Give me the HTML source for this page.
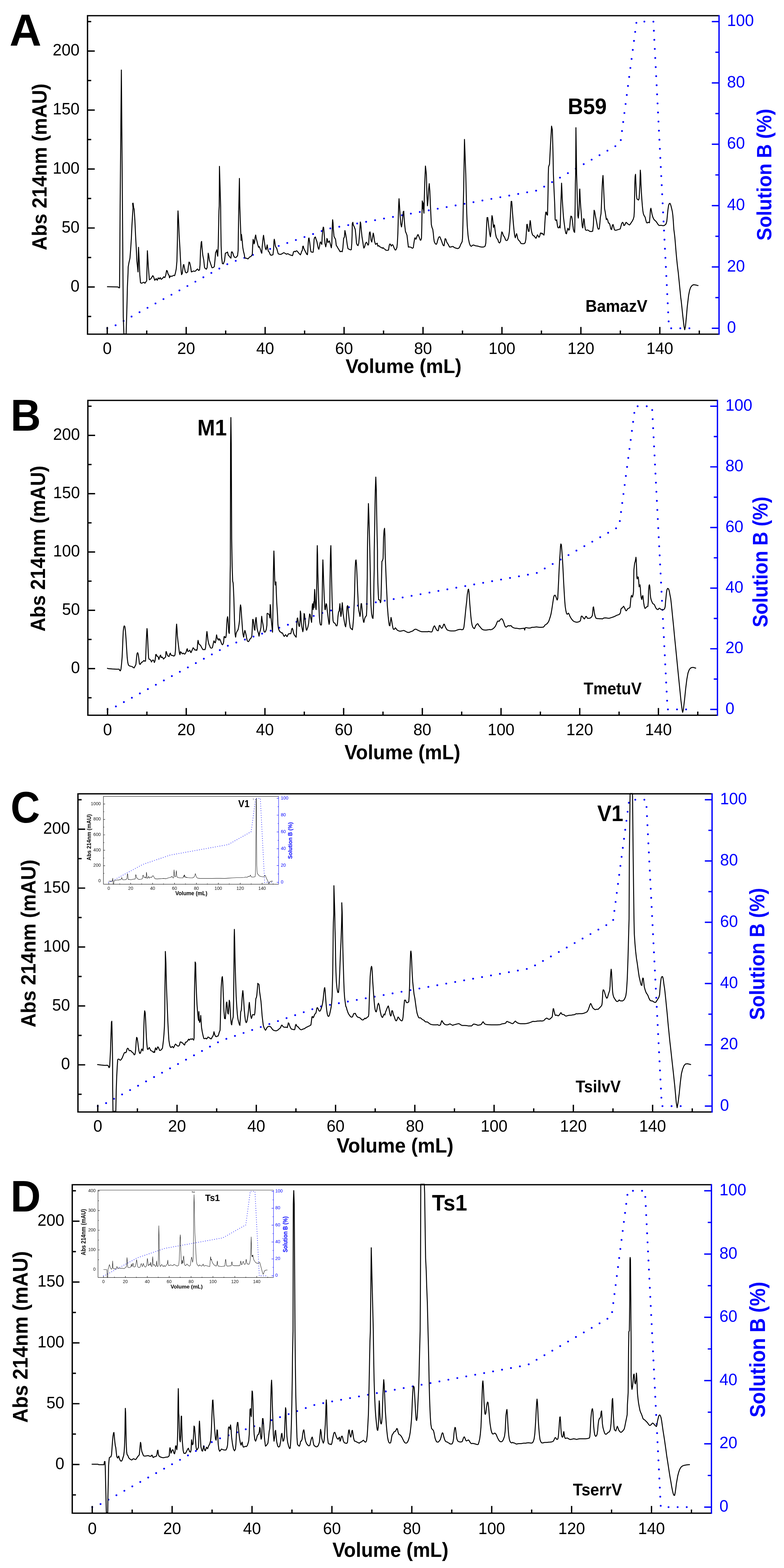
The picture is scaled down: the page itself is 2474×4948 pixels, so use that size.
<!DOCTYPE html><html><head><meta charset="utf-8"><style>html,body{margin:0;padding:0;background:#fff;overflow:hidden}svg{display:block}text{font-family:"Liberation Sans",Arial,sans-serif}.b{font-weight:bold}</style></head><body>
<svg xmlns="http://www.w3.org/2000/svg" width="2474" height="4948" viewBox="0 0 2474 4948">
<rect width="2474" height="4948" fill="#fff"/>
<g><polyline points="338.47,1035.89 347.44,1035.89 724.58,829.75 1035.95,721.85 1696.07,600.87 1957.62,452.32 2008.69,68.11 2061.87,68.11 2111.07,1035.89 2194.27,1035.89" fill="none" stroke="#00f" stroke-width="5.8" stroke-linecap="round" stroke-linejoin="round" stroke-dasharray="0 28.7"/><polyline points="337.8,904.7 371.9,905.6 376.0,908.4 377.2,907.8 378.1,799.1 379.1,650.0 383.0,221.0 386.0,600.0 389.0,1000.0 391.0,1054.0 398.0,1054.0 399.5,1004.0 401.0,950.0 402.0,905.0 404.0,862.0 404.5,842.5 407.0,828.6 410.1,814.6 412.3,786.6 414.5,752.5 416.3,712.1 418.5,674.8 419.8,656.2 418.5,642.0 420.0,641.0 421.9,656.2 423.2,659.3 425.7,696.6 427.8,743.2 430.0,783.5 431.9,823.9 435.6,858.1 437.1,780.4 439.3,823.9 441.2,867.4 443.4,892.2 446.5,893.8 454.2,890.7 457.3,893.8 462.9,886.0 465.1,791.3 468.2,842.5 471.3,882.9 476.0,879.8 482.2,869.9 484.7,873.6 488.4,884.5 493.0,879.2 496.1,884.5 499.3,876.7 502.4,880.4 505.5,876.1 508.6,881.4 513.2,878.3 516.3,873.6 520.1,876.1 523.2,867.4 525.7,853.4 527.8,855.0 530.3,864.3 533.4,868.9 535.0,876.7 537.5,871.1 541.2,872.0 544.3,871.1 547.4,868.9 551.1,869.9 553.6,861.2 556.1,848.8 558.3,823.9 559.8,758.7 560.7,696.6 561.7,665.5 563.5,696.6 565.4,743.2 567.6,780.4 569.8,823.9 571.6,855.0 572.9,866.8 575.3,862.7 578.4,836.3 580.0,834.8 582.2,845.7 584.7,858.1 587.8,861.2 592.4,858.1 594.6,839.4 596.5,827.0 598.6,828.6 601.7,842.5 603.9,858.1 608.0,856.5 611.1,855.0 614.2,856.5 617.3,855.0 620.4,851.2 623.5,848.8 626.6,853.4 629.7,851.9 631.2,836.3 632.8,789.8 635.0,764.9 636.2,761.8 637.5,780.4 639.9,805.3 643.0,820.8 645.2,842.5 647.4,847.2 651.4,849.4 653.6,844.1 655.5,823.9 657.0,799.1 658.6,805.3 660.7,820.8 663.9,830.1 667.0,839.4 669.1,845.0 673.2,844.1 676.3,841.0 678.4,820.8 680.3,797.5 682.5,792.9 684.0,788.2 685.6,802.2 687.1,808.4 688.7,774.2 689.6,727.6 690.9,665.5 691.8,650.0 692.5,525.0 696.2,650.0 696.8,712.1 697.8,774.2 699.3,811.5 701.8,831.7 704.9,832.6 708.6,822.4 711.1,799.1 714.8,797.5 718.0,795.3 720.4,805.3 723.5,808.4 726.6,813.0 728.8,814.6 730.4,796.0 731.9,794.4 735.0,799.1 736.6,805.3 739.7,811.5 742.8,813.0 745.9,811.5 749.6,806.8 751.5,789.8 752.1,743.2 753.0,681.1 753.7,650.0 755.5,563.0 756.8,650.0 758.3,696.6 759.9,737.0 760.8,758.7 762.0,740.1 763.9,755.6 766.1,780.4 768.3,792.9 770.7,802.2 772.3,811.5 773.9,814.6 778.5,815.2 782.5,817.1 784.7,814.6 787.8,810.9 790.9,809.9 794.0,806.8 796.2,802.2 797.1,780.4 798.7,755.6 800.2,758.7 801.8,769.6 803.4,764.9 804.9,749.4 806.8,741.6 808.6,752.5 811.1,761.8 813.6,772.7 815.8,780.4 817.3,777.3 820.4,783.5 823.5,792.9 826.0,799.1 827.3,780.4 829.1,761.8 830.4,749.4 831.6,742.5 833.5,755.6 835.3,771.1 837.5,783.5 839.7,788.2 841.6,780.4 843.1,772.7 844.7,783.5 846.8,792.9 849.9,796.0 852.1,802.2 854.6,805.3 857.7,805.3 861.4,803.7 863.3,786.6 864.5,761.8 865.5,755.0 867.0,761.8 868.6,774.2 870.7,780.4 873.2,783.5 875.7,792.9 877.9,800.6 881.0,802.2 885.7,802.8 890.3,800.6 895.0,797.5 898.1,798.4 901.2,800.6 904.3,802.2 907.4,800.6 910.5,801.6 913.6,803.7 918.3,805.3 922.9,806.8 924.5,802.2 926.0,795.3 929.1,792.9 932.2,794.4 935.3,791.3 938.4,792.9 941.6,797.5 944.7,800.6 947.8,804.3 950.2,799.1 951.8,793.5 954.0,789.8 955.5,777.3 957.1,776.7 958.6,783.5 961.7,789.8 964.8,796.0 968.0,802.2 970.1,803.7 971.4,789.8 972.6,768.0 973.9,752.5 975.1,750.9 977.3,764.9 979.4,783.5 981.3,794.4 985.0,796.0 988.1,796.0 989.7,780.4 991.2,755.6 992.8,749.4 995.3,747.8 997.5,755.6 999.9,761.8 1002.1,772.7 1004.3,783.5 1006.1,786.6 1008.3,777.3 1009.9,766.5 1011.4,763.4 1013.6,768.0 1015.5,771.1 1016.7,746.3 1018.6,724.5 1020.1,716.8 1021.4,718.3 1022.9,737.0 1025.4,768.0 1027.9,778.9 1030.1,768.0 1031.6,752.5 1033.2,755.6 1034.7,764.9 1037.2,763.4 1039.4,760.2 1040.9,764.9 1043.4,774.2 1045.6,782.0 1047.1,768.0 1048.7,712.1 1049.6,693.5 1050.9,702.8 1051.8,721.4 1054.0,746.3 1056.5,750.9 1058.9,755.6 1061.1,774.2 1063.3,777.3 1065.8,782.0 1068.9,786.6 1071.4,791.3 1073.5,794.4 1076.6,792.9 1079.8,794.4 1081.9,783.5 1084.4,752.5 1086.9,747.8 1088.4,727.6 1090.9,739.4 1093.0,751.9 1095.5,770.5 1098.0,784.5 1101.7,786.6 1106.4,788.5 1108.6,787.6 1110.1,767.4 1111.1,742.5 1111.7,705.3 1113.5,701.6 1114.8,709.9 1117.3,714.6 1121.0,723.9 1122.9,742.5 1125.0,767.4 1127.2,773.0 1129.7,775.2 1132.2,767.4 1134.3,742.5 1135.9,717.7 1137.1,700.6 1138.4,705.3 1139.9,723.9 1142.1,745.7 1144.6,761.2 1146.8,776.7 1148.3,782.9 1150.8,778.3 1153.0,768.9 1156.1,764.3 1158.3,767.4 1161.4,773.6 1163.2,770.5 1164.8,748.8 1165.7,734.8 1167.6,731.7 1169.4,742.5 1170.7,758.1 1173.2,763.7 1175.7,748.8 1177.8,735.7 1179.4,742.5 1181.9,761.2 1185.0,771.1 1187.1,769.9 1190.2,767.4 1192.4,776.7 1195.5,775.2 1198.0,778.3 1201.7,780.4 1204.2,781.4 1206.7,783.5 1208.9,781.4 1211.1,784.5 1214.2,786.0 1218.2,789.8 1222.9,790.1 1226.0,789.1 1228.4,773.6 1230.3,769.9 1232.2,771.1 1234.7,776.7 1236.8,773.0 1239.0,772.0 1241.5,776.7 1244.0,783.5 1247.1,789.1 1249.3,788.5 1252.4,781.4 1253.9,767.4 1255.5,736.3 1257.0,680.4 1258.0,649.4 1259.2,627.0 1260.7,649.4 1262.6,680.4 1264.8,706.8 1267.0,716.1 1268.8,705.3 1270.7,686.6 1272.5,668.0 1274.1,666.5 1275.0,683.5 1277.2,711.5 1279.4,730.1 1281.9,736.3 1284.3,742.5 1286.5,761.2 1288.7,779.8 1291.2,779.2 1294.3,779.8 1297.4,780.4 1301.1,783.5 1304.2,781.4 1306.1,767.4 1308.3,753.4 1309.8,750.3 1312.3,755.0 1314.5,750.3 1316.6,744.1 1319.1,740.1 1321.6,745.7 1323.8,751.2 1326.0,757.5 1327.8,758.1 1330.0,751.9 1330.9,720.8 1331.6,680.4 1332.5,633.9 1333.4,637.0 1334.0,658.7 1335.3,640.1 1336.5,661.8 1337.8,672.7 1339.0,624.5 1340.2,581.1 1341.5,550.0 1342.5,524.0 1345.5,550.0 1347.1,612.1 1348.9,649.4 1350.8,630.7 1352.7,596.6 1354.5,579.5 1356.4,602.8 1358.0,643.2 1359.5,674.2 1361.1,708.4 1363.2,717.7 1365.7,723.9 1367.3,736.3 1368.8,751.9 1370.4,762.7 1373.5,768.9 1376.6,771.1 1378.8,767.4 1381.2,758.1 1383.7,750.3 1385.9,747.2 1388.1,747.2 1390.6,753.4 1393.7,761.2 1396.8,770.5 1399.3,775.2 1401.4,775.2 1403.0,764.3 1404.5,753.4 1406.1,753.4 1407.6,756.5 1409.8,764.3 1413.9,770.5 1417.0,776.7 1419.1,779.8 1423.2,779.2 1426.3,778.3 1429.4,777.6 1432.5,780.4 1436.5,782.3 1440.2,783.5 1444.9,784.5 1448.0,782.9 1451.1,778.3 1454.2,770.5 1458.3,762.7 1459.5,751.9 1460.7,711.5 1462.0,643.2 1463.2,596.6 1463.9,550.0 1465.7,440.0 1469.8,550.0 1471.3,612.1 1472.9,674.2 1474.4,711.5 1476.9,742.5 1478.6,755.0 1481.1,767.4 1484.2,775.2 1487.3,777.3 1491.1,774.2 1494.8,773.0 1498.8,775.2 1503.5,776.1 1508.1,776.7 1512.8,778.3 1517.5,779.2 1522.1,779.8 1526.8,779.2 1530.8,776.7 1533.0,767.4 1534.5,736.3 1535.8,705.3 1537.0,686.6 1539.2,686.6 1540.7,699.1 1542.3,714.6 1543.9,727.0 1545.7,739.4 1547.6,747.2 1549.4,730.1 1551.0,699.1 1552.5,680.4 1554.1,686.6 1555.7,702.2 1557.2,717.7 1558.8,709.9 1560.3,709.9 1561.9,723.9 1564.0,739.4 1566.2,748.8 1568.7,753.4 1571.2,756.5 1573.4,764.3 1576.5,766.8 1579.6,761.2 1581.7,742.5 1583.6,731.7 1585.8,734.8 1588.0,742.5 1590.4,745.7 1592.9,750.3 1595.1,756.5 1597.3,759.0 1600.4,758.7 1602.9,754.3 1605.3,745.7 1607.5,730.1 1609.1,705.3 1610.6,680.4 1612.2,649.4 1613.1,635.4 1614.7,635.4 1615.9,649.4 1617.5,674.2 1619.0,692.9 1620.6,711.5 1622.1,727.0 1624.0,742.5 1626.1,750.3 1628.3,742.5 1630.2,737.3 1631.7,742.5 1633.9,753.4 1637.0,758.7 1640.1,761.2 1643.2,767.4 1646.3,768.9 1650.1,768.9 1654.1,768.9 1657.2,765.8 1659.4,755.0 1661.2,730.1 1662.5,708.4 1663.7,707.8 1665.6,720.8 1667.5,730.1 1669.6,730.1 1671.2,711.5 1673.0,696.0 1674.3,702.2 1675.8,720.8 1678.0,733.2 1680.5,741.0 1683.6,744.1 1686.1,745.0 1688.3,748.8 1691.4,751.9 1693.5,747.2 1696.0,741.0 1698.5,745.0 1700.7,748.8 1702.9,745.7 1705.3,736.3 1706.9,734.8 1709.4,737.9 1711.6,736.3 1714.0,740.1 1716.5,741.9 1717.8,733.2 1719.3,705.3 1720.9,680.4 1722.4,669.6 1724.0,669.6 1725.5,677.3 1727.7,678.9 1728.6,643.2 1729.6,596.6 1730.2,550.0 1731.0,527.0 1734.0,518.0 1737.0,460.0 1740.5,398.0 1743.0,410.0 1745.0,480.0 1746.3,550.0 1748.2,596.6 1750.4,643.2 1751.9,692.9 1754.4,696.0 1756.6,693.5 1758.1,705.3 1759.7,716.1 1761.9,719.3 1764.3,717.7 1765.9,713.0 1767.5,719.3 1769.0,674.2 1769.9,643.2 1771.2,605.9 1772.1,578.0 1773.0,596.6 1774.3,627.6 1775.2,643.2 1776.8,668.0 1778.3,686.6 1780.5,705.3 1783.0,723.9 1785.5,736.3 1787.6,737.9 1789.8,727.0 1792.3,720.2 1794.8,726.4 1797.0,723.9 1798.5,708.4 1800.1,689.8 1801.6,682.0 1804.1,683.5 1806.3,696.0 1807.8,711.5 1809.4,723.9 1811.6,731.7 1813.4,733.2 1814.0,705.3 1815.0,643.2 1815.6,581.1 1816.5,550.0 1817.4,403.0 1819.6,550.0 1820.9,596.6 1822.1,643.2 1823.4,680.4 1824.9,688.2 1826.5,674.2 1828.0,643.2 1828.9,601.2 1829.6,596.6 1831.1,630.7 1832.7,655.6 1834.2,674.2 1835.8,696.0 1837.3,714.6 1838.9,719.3 1840.4,705.3 1842.0,689.8 1843.5,692.9 1845.1,711.5 1847.6,725.5 1850.7,727.0 1853.8,725.5 1856.9,727.0 1860.9,730.1 1865.5,730.7 1870.2,729.5 1872.4,711.5 1873.6,686.6 1874.8,663.4 1876.7,668.0 1878.6,680.4 1881.1,692.9 1883.5,705.3 1885.7,717.7 1887.9,723.3 1891.0,722.4 1892.9,705.3 1894.4,686.6 1896.6,674.2 1898.1,643.2 1899.1,621.4 1900.3,587.3 1901.6,565.5 1902.8,553.7 1904.0,574.8 1905.3,605.9 1906.5,630.7 1907.8,658.7 1909.6,668.0 1911.5,680.4 1913.4,692.9 1915.2,689.8 1917.7,694.4 1919.9,703.7 1923.0,704.7 1925.2,711.5 1927.6,722.4 1930.1,724.5 1932.3,711.5 1934.5,708.4 1936.3,714.6 1938.5,723.9 1940.7,726.4 1944.7,726.4 1949.4,724.8 1953.1,723.9 1957.1,722.4 1959.3,714.6 1961.8,705.3 1964.3,701.6 1966.5,703.7 1968.6,711.5 1971.1,710.9 1973.6,705.3 1975.8,701.6 1978.0,703.7 1980.4,705.9 1983.5,708.4 1986.6,709.9 1989.1,706.8 1992.2,702.2 1995.3,697.5 1998.4,691.3 2000.6,683.5 2001.6,668.0 2002.2,640.1 2003.1,581.1 2004.3,556.2 2005.5,550.0 2006.8,581.1 2008.4,615.2 2009.9,627.6 2012.1,629.2 2014.6,631.4 2016.5,627.6 2017.7,612.1 2019.3,581.1 2020.2,550.0 2020.5,537.0 2021.7,550.0 2022.7,581.1 2023.9,605.9 2025.5,630.7 2027.0,649.4 2028.6,664.9 2030.1,674.2 2032.6,680.4 2035.7,685.1 2037.9,694.4 2040.1,702.2 2042.5,703.7 2045.0,701.2 2047.2,702.2 2049.4,702.8 2051.2,680.4 2052.5,661.8 2054.0,657.1 2055.6,664.9 2057.5,675.8 2059.6,683.5 2061.8,689.1 2064.3,693.5 2067.4,696.0 2070.5,699.1 2073.6,703.7 2076.7,708.4 2079.8,711.5 2082.9,711.5 2086.0,710.9 2090.7,712.1 2095.3,712.1 2098.4,709.9 2101.6,706.8 2104.0,699.1 2105.3,686.6 2106.5,674.2 2107.8,661.8 2109.6,649.4 2111.5,643.2 2114.0,641.6 2115.8,644.7 2117.7,650.9 2119.6,658.7 2121.7,668.0 2123.3,680.4 2124.8,699.1 2126.4,723.9 2128.0,736.3 2129.5,748.8 2131.1,767.4 2132.6,786.0 2134.2,804.7 2135.7,820.2 2137.3,835.7 2138.8,848.1 2140.4,860.6 2141.9,876.1 2143.5,891.6 2145.0,907.1 2146.6,922.7 2148.1,938.2 2149.7,950.0 2155.0,1000.0 2158.5,1030.0 2160.7,1040.5 2163.0,1030.0 2166.0,1000.0 2168.5,970.0 2173.0,932.0 2176.1,916.5 2179.2,907.1 2183.9,900.9 2188.5,898.4 2191.6,898.8 2196.3,899.4 2200.9,900.9 2204.0,900.9" fill="none" stroke="#000" stroke-width="3" stroke-linejoin="round"/><path d="M276.2,47.4V1056.6M274.1,49.5H2269M274.1,1054.5H2269" stroke="#000" stroke-width="4.2" fill="none"/><path d="M2269,47.4V1056.6" stroke="#00f" stroke-width="4.2" fill="none"/><path d="M276.2,998.67h11.6M276.2,905.61h22.8M276.2,812.56h11.6M276.2,719.5h22.8M276.2,626.44h11.6M276.2,533.39h22.8M276.2,440.33h11.6M276.2,347.28h22.8M276.2,254.22h11.6M276.2,161.17h22.8M276.2,68.11h11.6M338.47,1054.5v-22.8M463.02,1054.5v-11.6M587.58,1054.5v-22.8M712.12,1054.5v-11.6M836.67,1054.5v-22.8M961.22,1054.5v-11.6M1085.78,1054.5v-22.8M1210.33,1054.5v-11.6M1334.88,1054.5v-22.8M1459.42,1054.5v-11.6M1583.98,1054.5v-22.8M1708.53,1054.5v-11.6M1833.08,1054.5v-22.8M1957.62,1054.5v-11.6M2082.17,1054.5v-22.8M2206.72,1054.5v-11.6" stroke="#000" stroke-width="4.2" fill="none"/><path d="M2269,1035.89h-22.8M2269,939.11h-11.6M2269,842.33h-22.8M2269,745.56h-11.6M2269,648.78h-22.8M2269,552h-11.6M2269,455.22h-22.8M2269,358.44h-11.6M2269,261.67h-22.8M2269,164.89h-11.6M2269,68.11h-22.8" stroke="#00f" stroke-width="4.2" fill="none"/><text transform="translate(251.1,919.81) scale(1,1.02)" font-size="50.8" text-anchor="end">0</text><text transform="translate(251.1,733.7) scale(1,1.02)" font-size="50.8" text-anchor="end">50</text><text transform="translate(251.1,547.59) scale(1,1.02)" font-size="50.8" text-anchor="end">100</text><text transform="translate(251.1,361.48) scale(1,1.02)" font-size="50.8" text-anchor="end">150</text><text transform="translate(251.1,175.37) scale(1,1.02)" font-size="50.8" text-anchor="end">200</text><text transform="translate(338.47,1116.5) scale(1,1.02)" font-size="50.8" text-anchor="middle">0</text><text transform="translate(587.58,1116.5) scale(1,1.02)" font-size="50.8" text-anchor="middle">20</text><text transform="translate(836.67,1116.5) scale(1,1.02)" font-size="50.8" text-anchor="middle">40</text><text transform="translate(1085.78,1116.5) scale(1,1.02)" font-size="50.8" text-anchor="middle">60</text><text transform="translate(1334.88,1116.5) scale(1,1.02)" font-size="50.8" text-anchor="middle">80</text><text transform="translate(1583.98,1116.5) scale(1,1.02)" font-size="50.8" text-anchor="middle">100</text><text transform="translate(1833.08,1116.5) scale(1,1.02)" font-size="50.8" text-anchor="middle">120</text><text transform="translate(2082.17,1116.5) scale(1,1.02)" font-size="50.8" text-anchor="middle">140</text><text transform="translate(2294.2,1050.09) scale(1,1.02)" font-size="50.8" fill="#00f">0</text><text transform="translate(2294.2,856.53) scale(1,1.02)" font-size="50.8" fill="#00f">20</text><text transform="translate(2294.2,662.98) scale(1,1.02)" font-size="50.8" fill="#00f">40</text><text transform="translate(2294.2,469.42) scale(1,1.02)" font-size="50.8" fill="#00f">60</text><text transform="translate(2294.2,275.87) scale(1,1.02)" font-size="50.8" fill="#00f">80</text><text transform="translate(2294.2,82.31) scale(1,1.02)" font-size="50.8" fill="#00f">100</text></g>
<g><polyline points="339.38,2238.6 348.32,2238.6 724.31,2034.82 1034.73,1928.15 1692.82,1808.56 1953.58,1661.71 2004.49,1281.9 2057.51,1281.9 2106.55,2238.6 2189.5,2238.6" fill="none" stroke="#00f" stroke-width="5.8" stroke-linecap="round" stroke-linejoin="round" stroke-dasharray="0 28.7"/><polyline points="337.8,2108.6 342.4,2110.1 354.8,2111.1 367.3,2111.7 376.0,2111.7 378.1,2116.0 379.7,2117.0 381.6,2112.3 383.4,2096.8 385.3,2075.0 386.5,2050.2 387.8,2016.0 389.0,1991.2 390.6,1978.8 392.1,1975.0 394.0,1977.2 395.8,1991.2 397.7,2016.0 399.6,2047.1 401.4,2075.0 403.3,2090.6 405.2,2098.3 408.3,2101.4 412.3,2102.4 417.0,2103.6 420.1,2106.1 423.2,2107.6 425.7,2103.0 428.8,2096.8 430.0,2084.3 431.2,2071.9 432.5,2062.6 434.3,2059.5 436.2,2064.2 438.1,2078.1 439.9,2093.7 441.8,2096.8 444.3,2093.7 446.8,2089.9 449.6,2089.0 451.7,2086.8 454.2,2084.3 456.7,2086.8 459.2,2085.9 460.4,2059.5 461.7,2022.2 462.9,1997.4 463.9,1983.4 464.8,1991.2 466.0,2016.0 467.3,2047.1 468.8,2075.0 470.7,2080.6 473.5,2081.2 476.0,2083.7 477.8,2089.0 479.7,2085.9 482.2,2082.8 484.7,2083.7 487.1,2090.6 489.0,2085.9 490.2,2078.1 491.5,2065.7 493.0,2065.1 494.6,2070.4 497.1,2070.4 499.3,2073.5 501.4,2081.2 503.3,2074.4 505.5,2068.8 507.0,2067.3 508.6,2075.0 510.7,2073.5 513.2,2074.4 515.7,2079.7 517.9,2078.1 520.1,2075.0 522.5,2073.5 523.8,2056.4 525.0,2056.4 526.6,2062.6 528.8,2068.8 531.2,2070.4 533.4,2071.9 535.6,2064.2 537.5,2061.1 539.6,2067.3 542.7,2068.2 545.8,2068.8 548.9,2070.4 552.0,2067.3 553.6,2053.3 554.8,2022.2 556.1,1985.0 557.3,1969.4 558.6,1985.0 559.8,2006.7 561.4,2022.2 562.9,2034.7 564.5,2047.1 566.0,2059.5 567.9,2065.7 569.8,2056.4 571.6,2058.9 573.8,2061.1 576.0,2063.2 578.4,2061.1 580.9,2063.2 583.1,2064.2 585.3,2061.1 587.8,2056.4 589.3,2050.2 590.9,2047.1 592.4,2054.8 594.6,2055.8 597.1,2053.3 598.9,2051.7 600.8,2056.4 602.7,2059.5 604.8,2054.8 607.0,2049.6 609.5,2044.0 611.7,2046.5 614.2,2050.2 616.3,2051.7 618.8,2050.2 620.7,2052.7 622.5,2047.1 623.8,2028.4 625.0,2020.7 626.6,2028.4 628.1,2033.1 630.6,2034.7 632.8,2036.2 635.0,2040.9 637.5,2045.5 640.6,2050.2 643.7,2049.6 646.8,2050.2 648.6,2044.0 650.5,2022.2 651.7,2003.6 653.0,1992.7 654.5,2003.6 656.1,2019.1 658.0,2028.4 659.8,2034.7 661.7,2037.8 663.9,2044.0 667.0,2045.5 670.1,2044.0 671.6,2037.8 673.5,2028.4 675.3,2022.2 677.2,2026.9 679.4,2028.4 680.9,2022.2 682.5,2009.8 683.4,2003.6 685.0,2011.4 687.1,2017.6 689.6,2016.0 690.9,2020.7 692.7,2016.0 694.9,2019.1 697.1,2025.3 699.6,2032.2 702.0,2034.7 704.2,2031.6 705.8,2025.3 707.0,2009.8 708.3,2008.3 710.4,2012.3 712.6,2011.4 713.9,2003.6 715.1,1978.8 716.6,1953.9 718.2,1946.1 719.4,1953.9 720.7,1972.5 721.9,1994.3 723.5,1998.9 724.4,1966.3 725.3,1904.2 726.3,1811.1 726.9,1780.0 727.6,1400.0 728.6,1317.4 729.8,1400.0 731.1,1700.0 732.6,1787.0 734.2,1833.5 735.7,1839.8 736.6,1855.3 737.9,1886.3 738.8,1917.4 739.8,1954.7 741.0,1979.5 741.9,2001.2 743.5,2010.6 745.0,1999.7 746.6,1995.0 749.1,1990.4 751.2,1987.3 752.8,1979.5 754.3,1970.2 755.9,1957.8 756.8,1936.0 757.8,1917.4 759.0,1908.7 760.6,1917.4 762.1,1942.2 763.7,1964.0 765.2,1985.7 766.8,2001.2 768.9,2010.6 770.8,1998.1 772.7,1989.4 774.5,1995.0 776.7,2004.3 778.3,2013.7 780.1,2021.4 782.3,2024.5 784.5,2024.5 787.0,2020.5 788.5,2016.8 791.6,2014.3 794.7,2007.5 796.3,1979.5 797.5,1954.7 798.8,1954.7 800.6,1967.1 802.5,1985.7 804.3,1988.8 806.2,1957.8 808.1,1948.4 809.6,1964.0 811.2,1982.6 813.4,1991.9 815.5,1998.1 817.4,2007.5 819.6,1995.0 821.7,1988.8 823.6,1979.5 824.8,1957.8 825.8,1944.7 827.3,1957.8 829.8,1970.2 832.0,1985.7 833.5,1993.5 836.0,1995.0 838.2,1991.9 840.4,1985.7 842.2,1973.3 842.9,1936.0 844.4,1935.4 847.5,1937.6 849.7,1940.7 851.6,1950.0 852.8,1908.1 854.0,1917.4 855.3,1948.4 856.8,1964.0 858.4,1979.5 859.9,1995.0 860.9,1948.4 861.8,1892.5 862.7,1808.7 863.7,1762.1 864.3,1738.8 865.2,1762.1 866.1,1799.4 867.1,1833.5 868.3,1846.0 869.9,1836.6 870.8,1836.6 872.0,1870.8 873.3,1901.9 874.5,1920.5 875.8,1942.2 877.0,1970.2 878.6,1982.6 880.7,1988.8 883.2,1993.5 885.7,1994.4 887.9,1997.5 890.1,1996.6 892.5,1999.7 895.0,2005.9 897.2,2008.1 898.8,2005.9 901.2,2002.8 903.4,2005.9 905.6,2009.0 907.5,2005.9 909.6,2001.2 911.8,1999.7 914.3,1999.7 917.4,1999.7 918.9,1995.0 920.5,1985.1 922.4,1982.6 924.2,1987.3 926.1,1996.6 928.3,2002.8 930.4,2005.9 932.9,2009.0 934.5,2010.6 935.4,1998.1 936.6,1967.1 937.9,1951.6 939.1,1950.0 940.4,1957.8 942.2,1970.2 943.8,1976.4 945.3,1976.4 946.9,1954.7 947.8,1928.3 949.1,1936.0 950.3,1957.8 952.2,1976.4 954.0,1985.7 955.6,1993.5 957.1,1985.7 958.4,1960.9 959.6,1936.0 960.9,1939.1 962.7,1954.7 964.6,1973.3 966.5,1987.3 967.7,1988.8 969.6,1984.2 971.7,1978.0 973.9,1967.1 975.8,1948.4 977.0,1937.6 978.6,1939.1 980.1,1948.4 982.0,1957.8 983.2,1964.0 984.2,1945.3 985.1,1914.3 986.3,1905.0 987.3,1917.4 988.2,1923.6 989.4,1911.2 990.4,1898.8 991.3,1917.4 991.9,1886.3 992.9,1859.9 993.8,1873.9 995.0,1898.8 996.3,1917.4 997.5,1923.6 998.8,1886.3 999.7,1836.6 1000.6,1752.8 1001.2,1721.7 1002.2,1755.9 1003.1,1808.7 1004.3,1855.3 1005.9,1901.9 1007.5,1942.2 1009.0,1960.9 1010.6,1970.2 1013.0,1972.7 1014.6,1970.2 1015.5,1948.4 1016.8,1886.3 1017.4,1839.8 1018.3,1787.0 1018.9,1766.8 1019.9,1793.2 1021.4,1839.8 1023.0,1880.1 1023.9,1901.9 1025.5,1923.6 1026.7,1923.6 1028.0,1911.2 1029.2,1905.0 1030.7,1908.1 1032.3,1923.6 1033.9,1936.0 1035.4,1948.4 1037.0,1960.9 1038.5,1970.2 1039.8,1964.0 1040.7,1917.4 1041.6,1824.2 1042.5,1762.1 1043.5,1731.1 1044.1,1721.7 1045.0,1762.1 1046.3,1824.2 1047.8,1886.3 1049.4,1932.9 1050.9,1957.8 1052.5,1964.0 1054.7,1965.5 1057.1,1967.1 1058.7,1970.2 1060.9,1974.8 1063.4,1974.8 1064.9,1967.1 1066.5,1945.3 1068.3,1931.4 1070.2,1928.3 1071.4,1917.4 1072.7,1905.0 1074.2,1929.8 1075.8,1945.3 1077.3,1936.0 1078.9,1917.4 1080.1,1901.9 1081.4,1917.4 1082.6,1936.0 1084.5,1948.4 1086.6,1960.9 1088.8,1973.3 1090.7,1978.0 1092.2,1967.1 1093.8,1936.0 1095.3,1914.3 1096.9,1911.2 1098.0,1914.3 1099.3,1929.8 1101.1,1948.4 1103.3,1967.1 1105.5,1981.1 1108.6,1984.2 1112.0,1987.3 1113.5,1976.4 1115.4,1954.7 1116.6,1929.8 1117.9,1898.8 1118.8,1873.9 1119.8,1833.5 1121.0,1790.1 1122.2,1769.9 1123.5,1766.8 1124.7,1777.6 1126.0,1802.5 1127.2,1830.4 1128.4,1861.5 1129.7,1886.3 1130.6,1911.2 1132.2,1926.7 1134.3,1936.0 1135.9,1945.3 1137.1,1939.1 1138.4,1917.4 1139.6,1905.0 1140.9,1905.0 1142.1,1917.4 1143.7,1932.9 1145.2,1948.4 1146.8,1960.9 1148.3,1964.0 1150.2,1954.7 1152.0,1948.4 1154.5,1945.3 1156.4,1942.2 1157.6,1917.4 1158.3,1855.3 1158.9,1824.2 1159.5,1736.0 1160.1,1695.7 1161.4,1642.9 1162.6,1589.1 1163.9,1624.2 1165.4,1673.9 1167.0,1736.0 1168.5,1807.5 1169.4,1870.8 1170.7,1911.2 1172.5,1936.0 1174.7,1948.4 1176.9,1951.6 1178.1,1936.0 1179.4,1886.3 1180.0,1833.5 1180.9,1793.2 1180.9,1742.2 1182.5,1655.3 1183.4,1593.2 1184.3,1546.6 1185.9,1505.6 1187.5,1546.6 1188.7,1624.2 1189.9,1686.3 1191.2,1739.1 1191.2,1787.0 1192.4,1839.8 1193.7,1873.9 1194.9,1892.5 1196.8,1892.5 1198.6,1894.1 1200.5,1901.9 1201.7,1898.8 1202.7,1873.9 1203.6,1839.8 1204.2,1811.8 1205.2,1771.4 1207.3,1768.3 1208.9,1762.1 1210.4,1695.7 1212.0,1673.9 1213.5,1667.1 1214.5,1686.3 1215.4,1748.4 1216.6,1777.6 1218.2,1818.0 1219.8,1855.3 1221.3,1886.3 1222.2,1911.2 1223.5,1926.7 1224.7,1942.2 1226.6,1960.9 1228.4,1973.3 1230.3,1974.8 1232.2,1960.9 1234.0,1948.4 1235.9,1957.8 1237.8,1970.2 1239.9,1981.1 1241.5,1985.7 1244.6,1985.7 1247.7,1981.1 1250.2,1984.2 1253.3,1988.2 1257.0,1990.4 1261.7,1991.9 1266.3,1991.3 1270.1,1990.4 1274.1,1989.4 1278.1,1991.3 1281.9,1993.5 1286.5,1995.7 1291.2,1995.7 1295.8,1993.5 1300.5,1991.9 1303.6,1990.4 1306.7,1987.3 1309.8,1985.7 1313.5,1985.7 1317.6,1988.2 1322.2,1990.4 1326.9,1992.5 1331.6,1993.5 1337.8,1993.5 1344.0,1993.5 1349.6,1993.5 1352.7,1992.5 1356.4,1993.5 1361.1,1994.4 1363.2,1993.5 1365.1,1988.8 1367.3,1981.1 1369.4,1976.4 1371.3,1974.8 1373.5,1979.5 1376.6,1985.7 1379.7,1989.8 1382.8,1990.4 1384.3,1984.2 1385.9,1974.8 1388.1,1973.3 1390.6,1979.5 1393.7,1982.6 1396.1,1981.1 1398.3,1974.8 1400.5,1969.6 1402.4,1970.2 1404.5,1976.4 1407.6,1982.6 1410.7,1987.3 1414.8,1989.4 1418.5,1990.4 1423.2,1991.0 1427.8,1991.0 1432.5,1991.0 1437.1,1990.4 1440.9,1988.8 1444.9,1987.3 1449.6,1986.3 1454.2,1986.3 1457.3,1987.3 1461.4,1986.3 1463.9,1979.5 1465.7,1964.0 1467.6,1945.3 1469.1,1929.8 1470.7,1914.3 1472.9,1895.7 1474.4,1877.0 1476.0,1867.7 1477.5,1859.9 1478.6,1859.3 1479.9,1867.1 1481.1,1885.7 1482.4,1904.3 1484.2,1926.1 1486.1,1947.8 1488.0,1963.4 1489.8,1972.7 1492.0,1978.9 1494.8,1982.6 1497.3,1983.5 1499.8,1977.3 1501.9,1972.7 1504.1,1971.1 1506.6,1968.0 1509.1,1969.6 1511.2,1974.2 1514.3,1977.3 1517.5,1981.4 1520.6,1985.1 1525.2,1987.6 1529.9,1988.2 1534.5,1988.2 1539.2,1987.6 1543.9,1986.6 1548.5,1987.3 1553.2,1985.7 1557.8,1982.6 1562.5,1977.3 1565.6,1971.1 1568.1,1964.9 1570.2,1960.2 1572.4,1959.6 1574.9,1960.9 1577.4,1957.1 1580.5,1953.4 1583.0,1952.5 1585.5,1954.7 1588.0,1959.6 1590.4,1966.5 1592.9,1974.2 1595.1,1978.3 1598.2,1978.9 1601.3,1975.8 1604.4,1974.2 1607.5,1975.2 1610.6,1974.2 1612.8,1974.2 1614.7,1977.3 1617.8,1979.5 1621.5,1981.4 1626.1,1982.6 1630.8,1982.6 1635.5,1983.5 1640.1,1984.2 1644.8,1983.5 1649.4,1982.9 1654.1,1982.6 1655.7,1988.2 1657.2,1981.4 1660.3,1980.4 1665.0,1981.4 1669.6,1982.0 1674.3,1981.4 1678.9,1979.5 1683.6,1979.5 1688.3,1978.9 1692.9,1978.3 1697.6,1978.9 1702.2,1979.5 1708.4,1979.5 1714.7,1978.9 1717.8,1975.8 1720.2,1972.0 1723.4,1970.2 1726.5,1968.0 1728.9,1964.9 1731.7,1960.2 1733.9,1954.0 1736.4,1946.3 1738.9,1937.0 1741.1,1924.5 1743.2,1910.6 1745.1,1898.1 1747.0,1885.7 1748.8,1879.5 1751.3,1878.0 1753.5,1881.1 1755.7,1887.3 1758.1,1893.5 1760.0,1888.8 1761.2,1864.0 1762.8,1832.9 1764.3,1798.8 1765.9,1767.7 1767.5,1746.0 1768.7,1724.2 1769.9,1716.5 1771.5,1719.6 1772.7,1733.5 1774.3,1755.3 1775.8,1780.1 1777.4,1811.2 1778.9,1842.2 1780.5,1870.2 1782.0,1895.0 1783.6,1913.7 1785.5,1926.1 1787.6,1935.4 1789.8,1938.5 1791.7,1937.0 1793.9,1934.8 1796.0,1938.5 1798.5,1944.7 1801.0,1949.4 1804.1,1954.0 1807.2,1957.8 1810.9,1960.9 1815.6,1962.7 1820.2,1963.4 1824.9,1962.7 1829.6,1960.9 1832.0,1957.1 1834.2,1944.7 1836.4,1944.1 1838.9,1947.2 1841.4,1950.3 1843.9,1953.4 1846.0,1950.3 1848.2,1945.3 1850.7,1945.3 1852.5,1949.4 1855.0,1951.6 1857.5,1950.9 1860.9,1950.9 1864.0,1949.4 1867.1,1946.3 1869.3,1941.6 1870.5,1929.2 1871.7,1916.8 1873.0,1915.2 1874.2,1923.0 1875.8,1935.4 1878.0,1944.7 1880.4,1950.3 1883.5,1951.9 1887.3,1951.9 1891.9,1952.5 1896.6,1952.5 1901.2,1953.1 1905.3,1950.3 1909.0,1949.7 1913.7,1950.0 1918.3,1950.9 1923.0,1950.9 1927.6,1949.4 1932.3,1947.8 1937.0,1946.3 1941.6,1944.1 1946.3,1941.6 1950.9,1940.1 1955.6,1937.9 1958.1,1932.3 1959.3,1923.0 1961.2,1919.3 1963.7,1918.3 1966.1,1915.2 1968.0,1913.0 1969.9,1916.8 1971.7,1919.9 1973.6,1924.5 1975.8,1927.6 1978.0,1925.5 1980.4,1921.4 1982.9,1919.9 1985.4,1918.9 1987.9,1916.8 1989.1,1907.5 1990.4,1891.9 1991.6,1882.6 1992.9,1878.9 1994.4,1882.6 1996.0,1884.2 1997.8,1876.4 1999.1,1867.1 1999.7,1836.0 2000.3,1798.8 2001.6,1786.3 2002.8,1777.0 2004.3,1772.4 2005.9,1764.6 2006.8,1758.4 2007.8,1767.7 2009.0,1798.8 2009.9,1823.6 2010.9,1826.7 2012.1,1820.5 2014.0,1821.1 2015.2,1829.8 2016.8,1851.6 2018.3,1848.4 2019.6,1845.3 2020.8,1857.8 2021.7,1873.3 2023.3,1885.7 2025.2,1891.9 2027.0,1881.1 2028.6,1879.5 2029.8,1888.8 2031.1,1901.2 2033.2,1913.7 2035.4,1919.9 2037.9,1918.3 2040.1,1915.2 2042.5,1914.3 2044.4,1913.7 2045.7,1898.1 2046.6,1864.0 2048.1,1848.4 2049.4,1845.3 2050.6,1851.6 2051.9,1873.3 2053.1,1885.7 2055.0,1893.5 2057.5,1899.7 2059.6,1904.3 2062.1,1905.9 2064.3,1907.5 2066.1,1910.6 2068.0,1915.2 2070.5,1919.9 2073.6,1923.0 2076.7,1923.6 2079.2,1919.9 2081.4,1919.3 2083.5,1921.4 2086.0,1923.0 2089.1,1924.5 2092.2,1924.5 2095.3,1923.0 2097.5,1919.9 2099.1,1913.7 2100.3,1898.1 2101.6,1885.7 2103.1,1870.2 2104.7,1860.9 2106.5,1857.1 2108.4,1857.1 2110.2,1859.3 2112.4,1867.1 2114.0,1876.4 2116.5,1888.8 2118.3,1904.3 2120.2,1923.0 2122.0,1941.6 2123.9,1960.2 2125.8,1978.9 2128.9,2011.8 2133.9,2061.5 2138.8,2111.2 2143.8,2160.9 2148.8,2210.6 2152.5,2240.4 2154.2,2247.8 2156.2,2240.4 2159.9,2210.6 2163.7,2173.3 2167.4,2143.5 2171.1,2123.6 2174.8,2113.7 2178.6,2108.7 2183.5,2106.2 2188.5,2106.2 2192.2,2107.5 2196.5,2108.7" fill="none" stroke="#000" stroke-width="3" stroke-linejoin="round"/><path d="M277.3,1261.4V2259.1M275.2,1263.5H2264M275.2,2257H2264" stroke="#000" stroke-width="4.2" fill="none"/><path d="M2264,1261.4V2259.1" stroke="#00f" stroke-width="4.2" fill="none"/><path d="M277.3,2201.81h11.6M277.3,2109.81h22.8M277.3,2017.82h11.6M277.3,1925.83h22.8M277.3,1833.84h11.6M277.3,1741.85h22.8M277.3,1649.86h11.6M277.3,1557.87h22.8M277.3,1465.88h11.6M277.3,1373.89h22.8M277.3,1281.9h11.6M339.38,2257v-22.8M463.55,2257v-11.6M587.72,2257v-22.8M711.89,2257v-11.6M836.06,2257v-22.8M960.23,2257v-11.6M1084.4,2257v-22.8M1208.57,2257v-11.6M1332.73,2257v-22.8M1456.9,2257v-11.6M1581.07,2257v-22.8M1705.24,2257v-11.6M1829.41,2257v-22.8M1953.58,2257v-11.6M2077.75,2257v-22.8M2201.92,2257v-11.6" stroke="#000" stroke-width="4.2" fill="none"/><path d="M2264,2238.6h-22.8M2264,2142.93h-11.6M2264,2047.26h-22.8M2264,1951.59h-11.6M2264,1855.92h-22.8M2264,1760.25h-11.6M2264,1664.58h-22.8M2264,1568.91h-11.6M2264,1473.24h-22.8M2264,1377.57h-11.6M2264,1281.9h-22.8" stroke="#00f" stroke-width="4.2" fill="none"/><text transform="translate(252.2,2124.01) scale(1,1.02)" font-size="50.8" text-anchor="end">0</text><text transform="translate(252.2,1940.03) scale(1,1.02)" font-size="50.8" text-anchor="end">50</text><text transform="translate(252.2,1756.05) scale(1,1.02)" font-size="50.8" text-anchor="end">100</text><text transform="translate(252.2,1572.07) scale(1,1.02)" font-size="50.8" text-anchor="end">150</text><text transform="translate(252.2,1388.09) scale(1,1.02)" font-size="50.8" text-anchor="end">200</text><text transform="translate(339.38,2320.3) scale(1,1.02)" font-size="50.8" text-anchor="middle">0</text><text transform="translate(587.72,2320.3) scale(1,1.02)" font-size="50.8" text-anchor="middle">20</text><text transform="translate(836.06,2320.3) scale(1,1.02)" font-size="50.8" text-anchor="middle">40</text><text transform="translate(1084.4,2320.3) scale(1,1.02)" font-size="50.8" text-anchor="middle">60</text><text transform="translate(1332.73,2320.3) scale(1,1.02)" font-size="50.8" text-anchor="middle">80</text><text transform="translate(1581.07,2320.3) scale(1,1.02)" font-size="50.8" text-anchor="middle">100</text><text transform="translate(1829.41,2320.3) scale(1,1.02)" font-size="50.8" text-anchor="middle">120</text><text transform="translate(2077.75,2320.3) scale(1,1.02)" font-size="50.8" text-anchor="middle">140</text><text transform="translate(2289.2,2252.8) scale(1,1.02)" font-size="50.8" fill="#00f">0</text><text transform="translate(2289.2,2061.46) scale(1,1.02)" font-size="50.8" fill="#00f">20</text><text transform="translate(2289.2,1870.12) scale(1,1.02)" font-size="50.8" fill="#00f">40</text><text transform="translate(2289.2,1678.78) scale(1,1.02)" font-size="50.8" fill="#00f">60</text><text transform="translate(2289.2,1487.44) scale(1,1.02)" font-size="50.8" fill="#00f">80</text><text transform="translate(2289.2,1296.1) scale(1,1.02)" font-size="50.8" fill="#00f">100</text></g>
<g><polyline points="308.53,3490.41 317.54,3490.41 696.23,3284.48 1008.88,3176.68 1671.71,3055.82 1934.34,2907.42 1985.62,2523.59 2039.02,2523.59 2088.42,3490.41 2171.96,3490.41" fill="none" stroke="#00f" stroke-width="5.8" stroke-linecap="round" stroke-linejoin="round" stroke-dasharray="0 28.7"/><polyline points="306.8,3359.3 318.6,3360.8 331.1,3362.0 338.8,3361.4 341.9,3363.6 344.1,3369.2 346.0,3366.1 347.2,3344.3 348.8,3313.3 350.3,3263.6 351.6,3226.3 352.8,3222.6 353.7,3257.4 354.7,3304.0 355.3,3356.8 355.6,3440.0 356.5,3507.0 365.5,3507.0 366.8,3440.0 368.3,3397.1 369.9,3366.1 371.4,3344.3 373.0,3341.9 376.1,3342.8 379.2,3345.9 382.3,3343.7 385.4,3338.8 387.6,3333.5 390.1,3327.3 392.5,3322.0 394.7,3321.1 396.9,3322.0 398.8,3318.9 400.9,3310.2 403.1,3307.7 405.6,3310.2 407.1,3314.8 409.3,3315.8 411.8,3314.8 414.3,3317.3 416.5,3320.1 418.6,3321.1 421.1,3324.2 423.6,3328.8 425.8,3327.3 427.3,3319.5 428.6,3304.0 429.8,3285.3 431.1,3273.5 432.9,3276.0 434.8,3288.4 436.6,3304.0 438.5,3316.4 440.4,3323.2 442.2,3324.2 444.4,3319.5 446.0,3313.3 447.5,3310.2 449.1,3313.3 450.9,3315.8 452.2,3304.0 453.1,3272.9 454.0,3238.8 455.3,3204.6 456.5,3189.7 458.1,3195.3 459.6,3220.1 460.9,3251.2 462.1,3276.0 463.7,3297.8 465.2,3310.2 467.1,3311.7 469.3,3307.7 471.4,3305.5 473.3,3310.2 475.5,3314.8 477.6,3315.8 480.1,3317.0 482.6,3319.5 484.8,3321.1 486.3,3318.0 487.9,3321.1 489.4,3311.7 491.0,3306.5 492.5,3310.8 494.4,3312.7 496.3,3307.1 498.1,3303.4 500.0,3305.5 501.9,3310.2 503.7,3314.8 505.6,3314.8 508.1,3313.3 510.6,3310.8 512.7,3307.1 514.3,3294.7 515.8,3282.2 517.4,3263.6 518.9,3238.8 519.9,3195.3 520.5,3117.6 521.1,3071.1 521.7,3040.0 521.8,3002.4 523.6,3040.0 524.2,3071.1 525.5,3117.6 526.7,3148.7 528.3,3189.1 529.8,3226.3 531.4,3257.4 532.9,3282.2 535.4,3297.8 537.6,3304.0 539.8,3305.5 542.2,3303.4 544.7,3302.4 546.9,3306.5 549.1,3304.0 551.6,3297.8 554.0,3294.7 556.2,3297.1 558.4,3299.3 560.9,3300.9 564.0,3300.9 566.5,3297.1 568.6,3288.4 570.8,3287.8 573.3,3290.0 575.8,3290.9 578.0,3293.1 580.1,3296.2 582.6,3297.8 584.2,3291.6 586.3,3288.4 588.8,3288.4 591.3,3285.3 593.5,3282.2 595.0,3279.1 597.5,3282.2 599.7,3279.1 601.9,3278.5 604.3,3279.8 606.8,3277.6 609.0,3279.8 611.2,3282.2 612.4,3276.0 613.0,3226.3 613.7,3133.2 614.6,3086.6 615.5,3055.5 615.8,3035.8 617.4,3040.0 618.3,3086.6 619.9,3133.2 621.7,3170.4 623.6,3195.3 625.5,3213.9 626.7,3220.1 627.6,3192.2 628.6,3213.9 629.8,3226.3 631.1,3223.2 632.3,3220.1 633.5,3204.6 634.8,3226.3 636.0,3241.9 637.9,3254.3 639.8,3263.6 641.6,3271.4 643.5,3277.6 646.3,3277.6 649.4,3276.0 651.6,3278.5 654.0,3276.6 656.5,3272.3 658.7,3273.5 660.9,3275.4 663.4,3276.6 665.8,3278.5 668.0,3276.0 670.2,3271.4 672.0,3269.2 673.9,3263.6 675.2,3255.8 676.4,3260.5 678.3,3266.7 680.4,3270.4 682.6,3271.4 685.1,3269.8 687.6,3269.8 689.8,3265.2 691.9,3257.4 694.4,3251.2 695.3,3226.3 696.3,3179.8 697.5,3133.2 698.0,3116.0 699.3,3097.4 700.5,3085.0 701.7,3081.9 703.0,3097.4 704.2,3128.4 705.5,3159.5 706.7,3190.6 708.6,3213.9 711.1,3214.8 712.9,3190.6 714.2,3165.7 715.7,3162.0 717.3,3178.1 718.8,3196.8 720.4,3199.9 721.9,3178.1 723.5,3156.4 725.0,3162.6 726.6,3190.6 728.1,3215.4 729.7,3230.9 731.2,3234.0 732.8,3221.6 734.3,3215.4 735.9,3209.2 737.1,3159.5 737.8,3097.4 738.4,3029.1 739.0,2957.6 739.6,2932.8 740.6,2973.2 741.5,3019.8 742.7,3066.3 744.0,3106.7 745.2,3144.0 747.1,3175.0 748.9,3199.9 750.8,3215.4 753.0,3224.7 755.2,3232.5 757.0,3235.6 758.3,3215.4 759.5,3193.7 761.4,3187.5 762.6,3171.9 763.9,3150.2 765.1,3134.7 766.3,3126.0 767.6,3137.8 769.1,3159.5 770.7,3184.3 772.5,3206.1 774.7,3221.6 776.9,3227.2 778.8,3224.7 780.6,3215.4 782.5,3203.0 784.3,3187.5 785.6,3171.9 786.8,3163.2 788.1,3175.0 789.3,3190.6 791.2,3206.1 793.4,3213.9 794.9,3209.2 796.5,3203.0 798.0,3201.4 800.5,3202.4 802.7,3203.0 804.2,3196.8 805.8,3175.0 807.3,3151.7 809.2,3147.1 810.4,3140.9 812.0,3122.2 813.5,3103.0 815.4,3105.2 817.3,3106.7 819.1,3128.4 821.3,3144.0 823.5,3159.5 825.3,3181.2 827.2,3206.1 829.1,3221.6 830.6,3234.0 832.2,3240.2 834.7,3246.5 837.8,3251.1 839.9,3248.0 842.1,3243.4 845.2,3239.6 849.3,3238.7 853.3,3239.6 856.4,3243.4 859.5,3248.0 863.2,3251.1 867.9,3252.7 872.5,3252.7 877.2,3250.2 881.2,3246.5 885.0,3243.4 887.5,3237.1 889.6,3234.7 891.8,3237.8 894.9,3240.9 898.9,3241.8 903.0,3241.2 906.7,3242.7 908.3,3235.6 909.8,3227.8 911.7,3229.4 913.5,3235.6 916.0,3241.8 919.1,3247.1 922.2,3248.0 925.3,3248.6 928.4,3249.6 930.3,3248.0 932.2,3237.1 934.0,3232.5 936.2,3237.1 938.4,3239.6 941.5,3240.9 944.0,3244.9 947.1,3248.0 950.2,3249.6 953.3,3248.9 956.4,3247.1 960.1,3246.5 964.2,3243.4 968.8,3240.9 973.5,3238.7 978.1,3236.5 981.2,3234.0 982.8,3221.6 984.3,3209.2 986.2,3207.6 988.1,3211.7 989.9,3209.2 992.1,3203.0 994.3,3199.3 996.8,3196.8 998.3,3190.6 999.9,3181.2 1001.7,3179.7 1003.6,3182.8 1006.1,3189.0 1008.6,3191.2 1011.1,3189.0 1013.5,3182.8 1016.0,3175.0 1017.9,3165.7 1019.8,3153.3 1021.6,3134.7 1023.5,3119.1 1024.7,3116.6 1026.0,3125.3 1027.2,3144.0 1029.1,3168.8 1030.9,3187.5 1032.8,3199.9 1034.7,3206.1 1037.1,3207.6 1039.6,3203.0 1041.8,3193.7 1043.4,3185.9 1044.9,3178.1 1046.5,3165.7 1048.0,3144.0 1048.9,3112.9 1049.9,3072.5 1050.8,3004.2 1051.4,2942.1 1052.0,2911.1 1053.3,2880.0 1053.7,2795.1 1056.4,2880.0 1057.0,2926.6 1058.3,2973.2 1058.9,3019.8 1060.1,3066.3 1061.4,3097.4 1063.2,3116.0 1065.1,3128.4 1066.6,3132.2 1068.2,3131.6 1069.4,3119.1 1070.7,3097.4 1071.9,3072.5 1073.2,3035.3 1074.4,3004.2 1076.0,2973.2 1077.5,2926.6 1078.8,2880.0 1078.5,2848.7 1079.9,2880.0 1080.9,2942.1 1081.8,2988.7 1083.0,3035.3 1084.0,3066.3 1084.9,3097.4 1086.1,3128.4 1087.4,3147.1 1089.3,3162.6 1091.1,3175.0 1093.3,3179.7 1094.8,3185.9 1096.4,3190.6 1098.6,3196.8 1101.1,3201.4 1103.5,3204.5 1105.7,3207.6 1107.9,3209.2 1110.4,3209.8 1112.9,3207.6 1115.0,3201.4 1116.6,3198.3 1119.1,3198.3 1121.2,3197.7 1122.8,3201.4 1125.3,3206.1 1127.5,3208.6 1130.6,3210.7 1133.7,3210.7 1136.8,3212.9 1139.9,3216.0 1143.0,3218.5 1146.1,3218.5 1149.2,3215.4 1151.4,3212.9 1153.9,3214.8 1156.3,3212.3 1159.4,3209.8 1162.5,3207.6 1163.8,3199.9 1164.7,3175.0 1165.7,3144.0 1166.9,3112.9 1168.1,3081.9 1169.4,3066.3 1170.9,3053.9 1172.5,3049.3 1173.7,3053.9 1175.0,3072.5 1176.2,3097.4 1177.5,3116.0 1178.7,3134.7 1180.2,3153.3 1181.8,3171.9 1183.4,3184.3 1185.5,3192.1 1187.4,3193.0 1189.6,3184.3 1191.7,3171.9 1194.2,3165.7 1196.7,3171.9 1198.6,3184.3 1200.4,3193.7 1202.9,3204.5 1205.1,3209.2 1207.3,3210.7 1209.8,3204.5 1212.2,3199.9 1214.4,3203.0 1216.6,3193.7 1219.1,3187.5 1221.6,3181.2 1223.7,3176.6 1225.3,3174.4 1226.8,3179.7 1229.0,3190.6 1230.9,3201.4 1233.0,3206.1 1234.6,3203.0 1236.1,3190.6 1237.7,3189.0 1239.3,3192.1 1240.8,3199.9 1243.3,3206.1 1245.5,3212.3 1247.6,3218.5 1250.1,3221.6 1252.6,3218.5 1254.8,3212.3 1256.3,3209.2 1258.8,3212.3 1261.9,3217.0 1265.0,3220.1 1268.1,3221.6 1270.3,3218.5 1271.9,3209.2 1273.4,3190.6 1275.0,3171.9 1276.5,3156.4 1278.1,3155.8 1279.9,3156.4 1281.8,3162.6 1284.3,3164.2 1287.4,3163.2 1289.9,3161.1 1291.1,3144.0 1292.4,3112.9 1293.6,3066.3 1294.8,3029.1 1295.8,3004.2 1296.7,3001.1 1298.0,3010.4 1299.2,3035.3 1300.4,3066.3 1302.3,3097.4 1304.5,3119.1 1306.6,3137.8 1309.1,3150.2 1311.6,3168.8 1313.8,3184.3 1316.0,3196.8 1318.4,3204.5 1320.9,3210.7 1323.1,3212.3 1326.2,3211.7 1329.3,3213.9 1332.4,3217.0 1335.5,3218.5 1338.6,3220.1 1340.8,3223.2 1343.3,3224.7 1346.4,3224.7 1349.5,3225.3 1352.6,3227.8 1355.7,3230.3 1359.4,3232.5 1363.5,3233.4 1368.1,3234.0 1372.8,3234.0 1377.5,3234.0 1380.6,3233.4 1383.7,3235.0 1386.8,3235.6 1389.9,3234.0 1391.7,3227.8 1393.6,3221.6 1394.8,3221.0 1396.7,3224.7 1399.2,3228.4 1402.3,3231.6 1405.4,3233.4 1408.5,3234.0 1411.6,3234.0 1414.7,3233.4 1417.8,3231.6 1420.3,3230.9 1422.5,3232.5 1425.6,3234.0 1428.7,3235.6 1431.8,3234.0 1434.9,3233.4 1438.0,3232.5 1441.1,3231.6 1444.2,3230.9 1447.3,3230.3 1449.5,3230.9 1452.0,3232.5 1455.1,3234.7 1458.2,3235.9 1462.9,3235.9 1467.5,3235.9 1474.0,3236.6 1478.6,3237.6 1488.0,3237.6 1491.1,3234.5 1494.8,3231.4 1498.8,3232.3 1503.5,3233.5 1508.1,3235.4 1512.8,3234.5 1517.5,3233.5 1520.6,3229.8 1522.7,3226.1 1524.6,3224.2 1526.8,3227.6 1529.9,3231.4 1534.5,3232.9 1540.7,3233.5 1550.1,3233.9 1559.4,3233.9 1568.7,3233.9 1578.0,3233.5 1582.7,3231.4 1587.3,3230.4 1592.0,3229.8 1596.0,3228.3 1598.2,3224.2 1600.4,3223.0 1604.4,3225.2 1609.1,3226.7 1613.7,3229.2 1616.8,3230.4 1619.9,3229.2 1623.0,3225.2 1626.1,3222.0 1629.3,3225.2 1633.9,3228.3 1638.6,3229.8 1643.2,3230.4 1649.4,3230.4 1655.7,3230.4 1661.9,3229.8 1668.1,3228.3 1674.3,3226.1 1678.9,3224.2 1682.0,3223.0 1686.7,3223.6 1691.4,3223.0 1696.0,3222.0 1700.7,3222.0 1705.3,3221.4 1710.0,3222.0 1714.7,3221.1 1717.8,3218.9 1720.2,3215.8 1723.4,3213.7 1725.5,3212.7 1727.7,3214.3 1730.2,3215.8 1733.3,3216.8 1736.4,3214.9 1739.5,3211.8 1742.0,3209.6 1743.2,3205.0 1744.5,3192.5 1745.7,3183.2 1747.0,3183.2 1748.2,3189.4 1749.8,3195.7 1751.3,3201.9 1752.9,3204.3 1755.0,3203.4 1757.5,3203.4 1759.7,3205.0 1761.9,3205.6 1764.3,3203.4 1766.8,3200.3 1769.0,3196.3 1770.6,3195.7 1772.4,3199.4 1774.3,3201.2 1776.8,3201.2 1779.9,3201.9 1783.0,3205.0 1786.1,3206.5 1789.2,3205.6 1793.9,3204.3 1798.5,3203.7 1803.2,3203.4 1807.8,3202.5 1812.5,3201.9 1815.6,3200.3 1818.7,3198.8 1821.8,3199.4 1826.5,3198.8 1831.1,3198.8 1835.8,3198.8 1840.4,3198.1 1845.1,3196.3 1849.8,3194.4 1852.9,3192.5 1855.0,3188.8 1856.9,3184.8 1858.4,3180.1 1859.3,3178.0 1861.8,3170.2 1864.0,3166.5 1866.1,3170.2 1868.6,3176.4 1871.1,3181.1 1874.8,3184.2 1878.0,3186.3 1881.1,3185.1 1887.3,3185.1 1890.4,3182.0 1893.5,3178.9 1896.6,3175.8 1899.1,3171.7 1900.3,3164.0 1901.2,3148.4 1902.2,3129.8 1903.4,3123.6 1905.3,3124.2 1907.5,3129.8 1909.6,3137.6 1912.1,3145.3 1914.6,3150.0 1916.8,3148.4 1918.9,3140.7 1921.4,3132.9 1923.9,3125.2 1925.2,3111.2 1926.1,3086.3 1927.6,3067.7 1928.6,3058.4 1929.8,3067.7 1930.7,3086.3 1932.0,3111.2 1933.2,3129.8 1934.5,3139.1 1936.3,3145.3 1938.5,3150.0 1940.7,3153.1 1943.2,3157.1 1946.3,3160.2 1949.4,3160.2 1951.9,3157.8 1954.0,3155.3 1956.2,3157.8 1958.7,3158.4 1961.8,3158.4 1964.9,3158.4 1968.0,3156.2 1970.5,3153.1 1972.7,3148.4 1974.8,3142.2 1976.7,3129.8 1978.0,3111.2 1979.2,3092.5 1980.4,3061.5 1981.7,3024.2 1982.9,2980.7 1984.2,2931.1 1985.1,2900.0 1986.0,2700.0 1988.3,2504.0 1996.0,2504.0 1998.0,2700.0 2000.6,2900.0 2001.6,2946.6 2003.7,2977.6 2005.9,3002.5 2008.4,3024.2 2010.9,3039.8 2013.0,3055.3 2015.2,3070.8 2017.1,3083.2 2019.3,3092.5 2021.4,3101.9 2023.3,3108.7 2025.5,3109.6 2027.0,3092.5 2028.6,3086.3 2030.1,3087.9 2031.7,3101.9 2033.2,3114.3 2035.7,3123.6 2037.9,3129.8 2040.1,3134.5 2042.5,3137.6 2045.0,3142.2 2047.2,3148.4 2049.4,3153.1 2051.9,3157.1 2055.0,3158.4 2058.1,3158.4 2061.2,3160.2 2064.3,3162.4 2067.4,3163.4 2070.5,3161.5 2073.0,3157.1 2076.1,3152.2 2079.2,3146.9 2081.4,3139.1 2082.3,3126.7 2083.5,3111.2 2084.8,3098.8 2086.0,3089.4 2087.6,3083.2 2089.1,3081.7 2090.7,3081.7 2092.2,3086.3 2093.8,3095.7 2095.3,3108.1 2096.9,3117.4 2098.4,3129.8 2100.0,3145.3 2101.6,3160.9 2103.1,3176.4 2104.7,3191.9 2106.2,3207.5 2107.8,3226.1 2109.3,3241.6 2110.9,3257.1 2112.4,3272.7 2114.0,3288.2 2115.4,3299.8 2120.0,3341.7 2124.7,3383.6 2129.4,3427.9 2134.0,3479.1 2136.8,3495.4 2139.8,3479.1 2143.3,3451.2 2146.8,3416.2 2150.3,3388.3 2153.8,3374.3 2158.5,3362.7 2163.1,3357.5 2169.0,3356.8 2174.8,3358.0 2180.6,3359.6" fill="none" stroke="#000" stroke-width="3" stroke-linejoin="round"/><path d="M246,2502.9V3511.1M243.9,2505H2247M243.9,3509H2247" stroke="#000" stroke-width="4.2" fill="none"/><path d="M2247,2502.9V3511.1" stroke="#00f" stroke-width="4.2" fill="none"/><path d="M246,3453.22h11.6M246,3360.26h22.8M246,3267.3h11.6M246,3174.33h22.8M246,3081.37h11.6M246,2988.41h22.8M246,2895.44h11.6M246,2802.48h22.8M246,2709.52h11.6M246,2616.56h22.8M246,2523.59h11.6M308.53,3509v-22.8M433.59,3509v-11.6M558.66,3509v-22.8M683.72,3509v-11.6M808.78,3509v-22.8M933.84,3509v-11.6M1058.91,3509v-22.8M1183.97,3509v-11.6M1309.03,3509v-22.8M1434.09,3509v-11.6M1559.16,3509v-22.8M1684.22,3509v-11.6M1809.28,3509v-22.8M1934.34,3509v-11.6M2059.41,3509v-22.8M2184.47,3509v-11.6" stroke="#000" stroke-width="4.2" fill="none"/><path d="M2247,3490.41h-22.8M2247,3393.73h-11.6M2247,3297.04h-22.8M2247,3200.36h-11.6M2247,3103.68h-22.8M2247,3007h-11.6M2247,2910.32h-22.8M2247,2813.64h-11.6M2247,2716.96h-22.8M2247,2620.27h-11.6M2247,2523.59h-22.8" stroke="#00f" stroke-width="4.2" fill="none"/><text transform="translate(220.9,3374.46) scale(1,1.02)" font-size="50.8" text-anchor="end">0</text><text transform="translate(220.9,3188.53) scale(1,1.02)" font-size="50.8" text-anchor="end">50</text><text transform="translate(220.9,3002.61) scale(1,1.02)" font-size="50.8" text-anchor="end">100</text><text transform="translate(220.9,2816.68) scale(1,1.02)" font-size="50.8" text-anchor="end">150</text><text transform="translate(220.9,2630.76) scale(1,1.02)" font-size="50.8" text-anchor="end">200</text><text transform="translate(308.53,3571) scale(1,1.02)" font-size="50.8" text-anchor="middle">0</text><text transform="translate(558.66,3571) scale(1,1.02)" font-size="50.8" text-anchor="middle">20</text><text transform="translate(808.78,3571) scale(1,1.02)" font-size="50.8" text-anchor="middle">40</text><text transform="translate(1058.91,3571) scale(1,1.02)" font-size="50.8" text-anchor="middle">60</text><text transform="translate(1309.03,3571) scale(1,1.02)" font-size="50.8" text-anchor="middle">80</text><text transform="translate(1559.16,3571) scale(1,1.02)" font-size="50.8" text-anchor="middle">100</text><text transform="translate(1809.28,3571) scale(1,1.02)" font-size="50.8" text-anchor="middle">120</text><text transform="translate(2059.41,3571) scale(1,1.02)" font-size="50.8" text-anchor="middle">140</text><text transform="translate(2272.2,3504.61) scale(1,1.02)" font-size="50.8" fill="#00f">0</text><text transform="translate(2272.2,3311.24) scale(1,1.02)" font-size="50.8" fill="#00f">20</text><text transform="translate(2272.2,3117.88) scale(1,1.02)" font-size="50.8" fill="#00f">40</text><text transform="translate(2272.2,2924.52) scale(1,1.02)" font-size="50.8" fill="#00f">60</text><text transform="translate(2272.2,2731.16) scale(1,1.02)" font-size="50.8" fill="#00f">80</text><text transform="translate(2272.2,2537.79) scale(1,1.02)" font-size="50.8" fill="#00f">100</text></g>
<g><polyline points="291.03,4755.81 300.11,4755.81 681.83,4543.21 996.98,4431.92 1665.11,4307.15 1929.84,4153.94 1981.53,3757.69 2035.36,3757.69 2085.15,4755.81 2169.36,4755.81" fill="none" stroke="#00f" stroke-width="5.8" stroke-linecap="round" stroke-linejoin="round" stroke-dasharray="0 28.7"/><polyline points="289.3,4620.6 309.5,4620.6 311.1,4621.9 328.1,4621.9 329.7,4611.9 331.2,4611.9 332.2,4630.6 333.4,4683.4 334.3,4720.0 335.5,4773.0 340.0,4773.0 340.6,4720.0 342.1,4661.6 342.7,4624.3 344.0,4608.8 345.2,4599.5 347.7,4598.0 349.9,4597.3 352.0,4590.2 353.6,4568.4 355.2,4546.7 356.7,4531.2 358.3,4521.9 359.5,4520.3 360.7,4531.2 362.3,4549.8 363.9,4562.2 365.4,4568.4 367.0,4584.0 368.5,4596.4 370.1,4599.5 371.6,4601.1 373.2,4596.4 374.7,4594.8 376.3,4601.1 378.8,4607.3 380.9,4610.4 384.0,4610.4 386.2,4605.7 388.1,4599.5 390.2,4593.3 391.8,4580.9 393.0,4562.2 394.3,4521.9 394.9,4475.3 395.5,4444.2 396.5,4459.8 397.4,4506.3 398.3,4552.9 399.6,4580.9 401.1,4590.2 403.6,4593.3 405.8,4599.5 408.9,4603.2 412.0,4605.7 416.0,4607.3 419.1,4604.2 422.2,4603.2 425.3,4605.1 428.4,4605.7 431.6,4601.1 434.7,4596.4 437.8,4593.3 439.6,4590.2 440.9,4577.8 442.1,4562.2 443.4,4551.4 444.6,4556.0 446.1,4571.6 447.7,4580.9 450.2,4587.1 452.4,4592.7 454.5,4594.8 458.6,4594.8 463.2,4593.9 467.9,4593.3 471.0,4594.8 474.1,4595.5 477.2,4594.8 479.4,4591.7 481.2,4594.8 483.4,4599.5 486.5,4597.3 489.6,4596.4 492.7,4595.8 495.2,4590.2 496.8,4577.8 498.3,4576.2 499.6,4587.1 501.1,4593.3 503.6,4596.4 507.3,4598.0 511.4,4599.5 516.0,4600.1 520.7,4598.9 525.3,4598.0 529.1,4598.0 532.2,4595.8 534.0,4593.3 535.3,4574.7 536.5,4568.4 537.8,4573.1 539.6,4585.5 541.5,4580.9 543.4,4576.2 545.2,4574.7 547.1,4577.8 548.9,4585.5 550.8,4587.7 552.4,4580.9 553.9,4563.8 555.2,4562.2 556.4,4568.4 558.0,4574.7 559.5,4559.1 560.4,4531.2 561.4,4459.8 562.0,4413.2 562.6,4382.1 563.2,4407.0 563.9,4459.8 564.8,4469.1 565.7,4506.3 567.3,4543.6 568.8,4549.8 570.1,4531.2 571.0,4493.9 571.9,4469.1 572.9,4469.1 573.8,4506.3 575.0,4543.6 576.6,4562.2 578.1,4577.8 580.0,4585.5 582.8,4586.5 585.9,4585.5 589.0,4579.3 592.1,4573.1 594.3,4570.0 596.1,4574.7 598.3,4580.9 601.4,4582.4 603.0,4574.7 604.5,4543.6 606.1,4556.0 607.6,4559.1 609.2,4556.0 610.7,4531.2 612.3,4500.1 613.9,4503.2 615.4,4521.9 617.0,4543.6 618.5,4565.3 620.1,4574.0 621.6,4575.3 624.1,4571.6 626.3,4566.9 627.2,4543.6 628.4,4500.1 629.4,4484.6 630.3,4497.0 631.6,4521.9 633.1,4549.8 634.0,4565.3 635.6,4571.6 637.1,4577.8 639.3,4579.3 640.9,4571.6 642.7,4562.2 644.0,4568.4 645.8,4576.2 648.0,4577.8 649.6,4573.1 651.4,4566.9 652.7,4568.4 655.2,4571.6 657.3,4565.3 659.5,4560.7 662.0,4556.0 664.5,4546.7 665.7,4534.3 667.0,4512.5 668.2,4481.5 669.4,4450.4 670.7,4419.4 671.9,4417.8 673.2,4438.0 674.4,4462.9 676.0,4487.7 677.5,4512.5 678.7,4526.1 679.9,4540.1 681.8,4544.7 683.7,4529.2 684.9,4512.1 686.1,4513.7 687.4,4535.4 688.6,4557.1 690.5,4572.7 693.0,4579.5 695.5,4577.3 698.6,4572.7 702.6,4574.2 707.3,4575.8 712.9,4575.8 716.0,4569.6 718.1,4560.2 719.7,4535.4 720.6,4507.5 722.2,4502.8 724.3,4504.3 725.9,4510.6 727.5,4496.6 729.0,4507.5 730.9,4535.4 733.7,4557.1 736.8,4572.7 739.9,4578.3 743.0,4572.7 744.5,4557.1 746.1,4526.1 747.6,4501.2 749.2,4488.8 750.7,4488.8 752.3,4504.3 753.9,4523.0 756.3,4541.6 758.5,4554.0 760.7,4560.2 762.5,4554.0 764.1,4550.9 765.7,4560.2 767.8,4566.5 770.9,4565.8 774.0,4564.0 777.1,4564.9 780.2,4561.8 782.4,4555.6 784.9,4546.3 786.5,4526.1 788.0,4479.5 788.9,4448.4 790.2,4445.3 791.7,4464.0 793.0,4470.2 794.2,4423.6 795.5,4389.4 796.7,4392.5 798.0,4417.4 799.2,4464.0 800.4,4495.0 802.0,4526.1 804.2,4543.2 806.6,4547.8 809.1,4541.6 811.3,4532.3 813.5,4527.6 816.0,4526.1 818.4,4516.8 819.7,4504.3 820.9,4507.5 822.2,4529.2 824.0,4541.6 825.9,4535.4 827.1,4504.3 828.4,4476.4 829.9,4476.4 831.5,4491.9 833.0,4519.9 835.2,4544.7 837.7,4563.4 840.2,4561.8 842.4,4558.7 845.5,4554.0 847.6,4535.4 849.5,4516.8 851.4,4507.5 853.2,4479.5 854.5,4417.4 855.7,4373.9 857.0,4355.3 858.2,4380.1 859.4,4432.9 861.0,4479.5 862.5,4526.1 864.7,4547.8 866.6,4535.4 868.1,4516.8 869.7,4513.7 871.2,4529.2 873.4,4550.9 876.5,4563.4 879.6,4566.5 882.7,4563.4 885.8,4547.8 888.0,4526.1 889.6,4523.0 891.1,4535.4 893.0,4547.8 895.2,4546.3 897.3,4535.4 898.6,4504.3 899.8,4467.1 901.1,4442.2 902.3,4448.4 903.5,4491.9 905.4,4532.3 907.6,4550.9 910.7,4563.4 913.8,4571.1 916.0,4569.6 917.8,4541.6 919.4,4495.0 920.9,4432.9 922.2,4355.3 923.1,4277.6 924.0,4231.1 924.7,4200.0 925.5,3800.0 927.0,3757.0 928.5,3800.0 930.9,4200.0 931.5,4262.1 932.4,4333.5 933.4,4401.9 934.6,4448.4 935.8,4495.0 937.1,4535.4 938.6,4557.1 941.7,4561.8 944.8,4563.4 947.0,4557.1 948.9,4547.8 951.1,4547.2 953.2,4541.6 955.1,4526.1 957.3,4513.7 958.8,4512.1 960.4,4519.9 961.9,4535.4 964.4,4547.8 967.5,4555.6 971.2,4560.2 975.0,4562.7 978.1,4560.2 980.6,4547.8 983.0,4538.5 985.2,4534.8 986.8,4540.1 988.3,4550.9 990.5,4560.2 993.6,4563.4 997.6,4565.8 1001.7,4564.9 1004.8,4560.2 1007.9,4550.9 1009.8,4529.2 1011.6,4510.6 1013.5,4519.9 1015.3,4538.5 1017.8,4547.8 1020.3,4554.0 1022.5,4547.8 1024.7,4523.0 1026.5,4495.0 1027.8,4464.0 1028.7,4436.0 1029.6,4417.4 1030.9,4436.0 1031.8,4495.0 1033.4,4535.4 1035.8,4554.0 1038.9,4557.1 1042.0,4557.1 1045.2,4558.7 1047.3,4554.0 1049.5,4541.6 1052.0,4529.2 1053.9,4521.4 1056.6,4519.9 1058.8,4526.1 1061.3,4533.9 1064.4,4540.1 1067.5,4541.6 1069.3,4537.0 1071.2,4535.4 1073.0,4547.8 1074.9,4544.7 1077.1,4533.9 1079.3,4531.7 1081.1,4535.4 1083.3,4546.3 1086.4,4552.5 1089.5,4554.0 1094.2,4554.7 1096.6,4550.9 1098.5,4529.2 1100.4,4513.7 1101.9,4512.1 1103.5,4523.0 1105.3,4532.3 1107.2,4534.8 1109.1,4526.1 1110.6,4515.2 1112.2,4513.7 1114.0,4526.1 1115.9,4538.5 1118.4,4547.2 1122.1,4548.4 1125.8,4550.3 1129.9,4552.5 1133.9,4554.0 1137.6,4550.9 1141.4,4549.4 1144.5,4546.3 1147.0,4544.7 1149.4,4547.8 1152.5,4550.9 1154.7,4550.3 1156.9,4544.7 1158.8,4529.2 1160.0,4510.6 1161.2,4488.8 1162.5,4464.0 1163.7,4417.4 1164.7,4370.8 1165.6,4324.2 1166.5,4277.6 1167.5,4231.1 1168.7,4200.0 1171.5,3937.6 1178.0,4200.0 1178.6,4246.6 1179.6,4308.7 1180.5,4355.3 1181.7,4392.5 1183.0,4423.6 1184.2,4448.4 1185.8,4470.2 1187.3,4485.7 1188.9,4501.2 1190.4,4512.1 1192.0,4513.7 1193.5,4504.3 1194.8,4479.5 1195.7,4448.4 1196.6,4420.5 1197.6,4429.8 1198.5,4457.8 1199.8,4479.5 1201.3,4490.4 1202.9,4493.5 1204.4,4488.8 1206.0,4470.2 1207.2,4436.0 1208.4,4401.9 1209.7,4373.9 1210.9,4353.7 1212.2,4367.7 1213.4,4392.5 1214.7,4423.6 1215.9,4451.6 1217.5,4473.3 1219.0,4495.0 1220.9,4516.8 1223.0,4535.4 1225.2,4546.3 1227.7,4552.5 1230.2,4554.0 1232.7,4552.5 1234.5,4544.7 1235.8,4535.4 1237.6,4527.6 1240.1,4524.5 1242.6,4519.9 1245.1,4517.4 1247.6,4516.8 1250.1,4512.1 1252.5,4507.5 1254.4,4510.6 1256.3,4519.9 1258.8,4526.1 1261.9,4527.6 1265.0,4530.7 1268.1,4535.4 1271.2,4541.6 1274.3,4547.8 1277.4,4552.5 1280.5,4554.0 1283.6,4553.4 1286.7,4549.4 1289.8,4541.6 1292.3,4532.3 1294.5,4519.9 1296.6,4501.2 1298.5,4479.5 1299.8,4454.7 1301.0,4423.6 1302.2,4398.8 1303.5,4380.1 1304.7,4373.9 1306.0,4375.5 1307.2,4380.1 1308.4,4401.9 1310.0,4429.8 1311.6,4457.8 1313.1,4479.5 1314.7,4482.6 1316.5,4473.3 1317.8,4448.4 1319.3,4417.4 1320.9,4386.3 1322.4,4339.8 1323.4,4293.2 1324.6,4246.6 1325.8,4200.0 1326.5,4100.0 1327.0,3990.0 1327.8,3737.0 1339.0,3737.0 1340.0,3766.0 1341.5,3870.0 1343.0,3970.0 1345.0,4010.0 1346.5,4060.0 1348.5,4110.0 1350.7,4200.0 1351.9,4246.6 1353.2,4308.7 1354.4,4370.8 1355.7,4417.4 1356.9,4448.4 1358.1,4473.3 1359.7,4495.0 1361.9,4507.5 1364.3,4510.6 1367.5,4513.7 1369.3,4519.9 1371.2,4529.2 1373.0,4538.5 1375.2,4544.7 1377.4,4549.4 1380.5,4550.9 1383.6,4550.3 1386.7,4546.3 1389.2,4543.2 1391.7,4535.4 1393.9,4526.1 1396.0,4521.4 1397.9,4523.0 1400.1,4532.3 1402.2,4540.1 1404.7,4546.3 1407.2,4549.4 1410.9,4550.3 1414.0,4552.5 1417.1,4554.0 1420.2,4556.5 1424.0,4557.1 1427.1,4555.6 1429.6,4549.4 1431.4,4538.5 1432.7,4523.0 1434.2,4510.6 1435.8,4504.3 1437.3,4505.9 1438.9,4519.9 1440.4,4532.3 1442.0,4541.6 1444.5,4547.2 1447.6,4549.4 1451.3,4550.3 1455.0,4550.3 1458.1,4549.4 1459.9,4545.5 1462.4,4537.8 1464.9,4534.0 1467.1,4537.8 1469.3,4544.0 1471.7,4547.1 1474.8,4545.5 1478.6,4544.0 1481.1,4547.1 1484.2,4552.7 1487.3,4555.5 1491.9,4554.8 1496.6,4555.8 1501.2,4557.0 1505.9,4558.6 1509.0,4558.0 1511.5,4550.2 1513.7,4540.9 1515.8,4525.3 1517.7,4503.6 1518.9,4475.7 1520.2,4435.3 1521.4,4398.0 1522.7,4363.9 1523.9,4357.6 1525.2,4373.2 1526.4,4398.0 1527.6,4426.0 1528.9,4447.7 1530.1,4460.1 1531.4,4463.2 1533.2,4458.6 1535.1,4441.5 1537.0,4429.1 1538.5,4424.4 1540.1,4426.0 1541.6,4438.4 1543.2,4457.0 1544.7,4475.7 1546.3,4491.2 1548.1,4503.6 1550.0,4514.5 1552.5,4522.2 1555.0,4525.3 1558.1,4524.4 1561.2,4522.2 1563.7,4523.8 1566.5,4528.4 1569.6,4536.2 1572.7,4542.4 1575.8,4547.1 1578.9,4549.6 1582.9,4549.6 1586.0,4547.1 1589.1,4540.9 1592.2,4531.6 1594.1,4516.0 1595.3,4491.2 1596.6,4466.3 1598.4,4452.4 1599.7,4447.7 1600.9,4460.1 1602.2,4485.0 1603.7,4509.8 1605.3,4528.4 1607.1,4540.9 1609.0,4547.7 1611.5,4551.7 1614.6,4553.3 1617.7,4551.7 1620.8,4553.3 1623.9,4553.9 1627.0,4555.8 1630.1,4557.0 1634.8,4555.8 1639.4,4555.5 1644.1,4555.5 1648.8,4554.8 1653.4,4553.9 1658.1,4554.2 1662.7,4553.3 1667.4,4552.7 1672.0,4553.3 1676.7,4553.9 1680.4,4552.7 1682.9,4548.6 1685.4,4540.9 1687.6,4525.3 1689.1,4503.6 1690.7,4478.8 1692.2,4447.7 1693.5,4426.0 1694.7,4415.1 1696.0,4426.0 1697.2,4450.8 1698.4,4478.8 1700.3,4506.7 1702.2,4528.4 1704.0,4542.4 1706.5,4549.6 1709.6,4553.3 1713.4,4553.3 1717.1,4552.0 1721.7,4551.7 1726.4,4551.7 1731.1,4551.1 1735.7,4550.8 1740.4,4550.2 1745.0,4548.6 1747.5,4545.5 1749.7,4540.2 1751.9,4536.5 1753.7,4537.1 1755.9,4540.9 1758.1,4542.4 1760.6,4540.2 1762.1,4531.6 1763.7,4512.9 1765.2,4488.1 1766.5,4472.5 1767.7,4471.0 1768.9,4485.0 1769.9,4506.7 1771.4,4525.3 1773.0,4533.1 1774.8,4535.3 1776.7,4533.1 1778.0,4522.2 1779.2,4517.6 1780.4,4525.3 1781.7,4534.7 1783.9,4539.3 1787.0,4538.4 1790.1,4537.8 1793.2,4539.3 1796.3,4541.5 1799.4,4542.4 1804.0,4541.8 1807.1,4540.9 1810.2,4540.2 1814.9,4540.9 1819.6,4542.4 1824.2,4540.9 1828.9,4540.2 1835.1,4540.2 1841.3,4540.2 1847.5,4540.2 1854.0,4539.4 1859.3,4538.1 1861.1,4534.1 1862.4,4520.1 1863.6,4495.3 1864.8,4473.5 1866.7,4454.9 1868.6,4446.2 1869.8,4445.6 1871.1,4454.9 1872.3,4479.8 1873.5,4501.5 1875.4,4520.1 1877.3,4529.4 1879.8,4532.5 1881.9,4531.0 1884.1,4526.3 1886.0,4513.9 1887.2,4498.4 1889.1,4482.9 1891.2,4476.6 1893.4,4475.1 1895.3,4470.4 1897.1,4454.9 1898.4,4452.4 1899.6,4470.4 1900.9,4492.2 1902.7,4504.6 1905.2,4513.9 1907.7,4521.7 1910.2,4525.7 1913.3,4525.7 1916.1,4523.2 1918.3,4520.7 1921.4,4519.5 1924.5,4515.5 1926.3,4509.3 1928.2,4492.2 1929.4,4470.4 1930.7,4442.5 1931.9,4417.6 1933.2,4413.0 1934.1,4427.0 1935.0,4458.0 1936.3,4479.8 1937.5,4501.5 1938.8,4510.8 1940.9,4513.9 1943.1,4515.5 1945.6,4507.7 1948.1,4500.9 1950.2,4506.1 1952.4,4512.4 1954.9,4516.4 1958.0,4519.5 1961.1,4519.5 1964.2,4516.4 1967.3,4513.3 1969.8,4509.3 1971.7,4501.5 1973.5,4492.2 1975.4,4482.9 1977.3,4473.5 1979.1,4464.2 1979.8,4433.2 1982.2,4395.0 1982.9,4323.6 1983.5,4255.3 1984.4,4202.5 1986.0,4199.4 1986.6,4155.9 1987.2,4100.0 1987.8,3975.0 1988.5,3968.0 1989.5,3975.0 1990.6,4100.0 1990.9,4162.1 1991.6,4239.8 1991.6,4342.2 1992.8,4373.3 1994.3,4384.2 1995.9,4376.4 1997.8,4357.8 1999.3,4339.1 2000.9,4336.0 2002.1,4348.4 2003.4,4364.0 2005.2,4367.1 2007.1,4354.7 2008.3,4332.9 2009.6,4348.4 2010.8,4379.5 2011.7,4398.1 2013.3,4413.7 2014.8,4426.1 2017.0,4438.5 2019.5,4450.9 2021.7,4457.1 2023.9,4461.8 2026.3,4468.0 2028.8,4475.8 2031.0,4478.9 2034.1,4480.4 2037.2,4483.5 2040.3,4486.6 2043.4,4489.8 2046.5,4494.4 2049.6,4498.1 2052.7,4497.5 2055.8,4494.4 2058.9,4490.7 2062.0,4491.9 2065.2,4496.0 2068.3,4499.1 2071.4,4501.5 2072.9,4496.8 2074.5,4486.0 2076.6,4476.6 2079.1,4467.3 2081.6,4464.8 2083.8,4467.3 2086.0,4473.5 2087.8,4482.9 2090.0,4498.4 2092.2,4513.9 2094.7,4529.4 2097.1,4545.0 2099.3,4560.5 2101.5,4576.0 2104.0,4594.7 2106.5,4610.2 2108.9,4625.7 2111.7,4644.3 2114.2,4659.9 2117.0,4675.4 2119.5,4690.9 2122.0,4703.4 2124.2,4712.7 2126.3,4718.3 2128.8,4718.9 2130.7,4709.6 2132.5,4697.1 2134.4,4681.6 2136.6,4669.2 2138.8,4656.8 2141.2,4647.5 2144.3,4638.1 2147.5,4631.9 2150.6,4628.2 2154.3,4625.7 2158.3,4624.2 2163.0,4623.2 2167.6,4622.6 2172.3,4622.0 2177.0,4621.7" fill="none" stroke="#000" stroke-width="3" stroke-linejoin="round"/><path d="M228,3736.4V4777.1M225.9,3738.5H2245M225.9,4775H2245" stroke="#000" stroke-width="4.2" fill="none"/><path d="M2245,3736.4V4777.1" stroke="#00f" stroke-width="4.2" fill="none"/><path d="M228,4717.42h11.6M228,4621.44h22.8M228,4525.47h11.6M228,4429.5h22.8M228,4333.53h11.6M228,4237.56h22.8M228,4141.58h11.6M228,4045.61h22.8M228,3949.64h11.6M228,3853.67h22.8M228,3757.69h11.6M291.03,4775v-22.8M417.09,4775v-11.6M543.16,4775v-22.8M669.22,4775v-11.6M795.28,4775v-22.8M921.34,4775v-11.6M1047.41,4775v-22.8M1173.47,4775v-11.6M1299.53,4775v-22.8M1425.59,4775v-11.6M1551.66,4775v-22.8M1677.72,4775v-11.6M1803.78,4775v-22.8M1929.84,4775v-11.6M2055.91,4775v-22.8M2181.97,4775v-11.6" stroke="#000" stroke-width="4.2" fill="none"/><path d="M2245,4755.81h-22.8M2245,4655.99h-11.6M2245,4556.18h-22.8M2245,4456.37h-11.6M2245,4356.56h-22.8M2245,4256.75h-11.6M2245,4156.94h-22.8M2245,4057.13h-11.6M2245,3957.32h-22.8M2245,3857.51h-11.6M2245,3757.69h-22.8" stroke="#00f" stroke-width="4.2" fill="none"/><text transform="translate(202.9,4635.64) scale(1,1.02)" font-size="50.8" text-anchor="end">0</text><text transform="translate(202.9,4443.7) scale(1,1.02)" font-size="50.8" text-anchor="end">50</text><text transform="translate(202.9,4251.76) scale(1,1.02)" font-size="50.8" text-anchor="end">100</text><text transform="translate(202.9,4059.81) scale(1,1.02)" font-size="50.8" text-anchor="end">150</text><text transform="translate(202.9,3867.87) scale(1,1.02)" font-size="50.8" text-anchor="end">200</text><text transform="translate(291.03,4840.8) scale(1,1.02)" font-size="50.8" text-anchor="middle">0</text><text transform="translate(543.16,4840.8) scale(1,1.02)" font-size="50.8" text-anchor="middle">20</text><text transform="translate(795.28,4840.8) scale(1,1.02)" font-size="50.8" text-anchor="middle">40</text><text transform="translate(1047.41,4840.8) scale(1,1.02)" font-size="50.8" text-anchor="middle">60</text><text transform="translate(1299.53,4840.8) scale(1,1.02)" font-size="50.8" text-anchor="middle">80</text><text transform="translate(1551.66,4840.8) scale(1,1.02)" font-size="50.8" text-anchor="middle">100</text><text transform="translate(1803.78,4840.8) scale(1,1.02)" font-size="50.8" text-anchor="middle">120</text><text transform="translate(2055.91,4840.8) scale(1,1.02)" font-size="50.8" text-anchor="middle">140</text><text transform="translate(2270.2,4770.01) scale(1,1.02)" font-size="50.8" fill="#00f">0</text><text transform="translate(2270.2,4570.38) scale(1,1.02)" font-size="50.8" fill="#00f">20</text><text transform="translate(2270.2,4370.76) scale(1,1.02)" font-size="50.8" fill="#00f">40</text><text transform="translate(2270.2,4171.14) scale(1,1.02)" font-size="50.8" fill="#00f">60</text><text transform="translate(2270.2,3971.52) scale(1,1.02)" font-size="50.8" fill="#00f">80</text><text transform="translate(2270.2,3771.89) scale(1,1.02)" font-size="50.8" fill="#00f">100</text></g>
<g><rect x="326.4" y="2512.9" width="552.8" height="277.4" fill="#fff"/><polyline points="343.3,2784.45 345.79,2784.45 450.44,2727.95 536.84,2698.38 720,2665.22 792.58,2624.5 806.75,2519.2 821.51,2519.2 835.16,2784.45 858.24,2784.45" fill="none" stroke="#00f" stroke-width="2.2" stroke-linecap="round" stroke-dasharray="0 7.3"/><polyline points="343.0,2780.6 354.6,2780.6 355.8,2771.1 356.6,2781.8 357.1,2790.0 357.0,2790.3 359.0,2790.3 359.7,2780.6 362.2,2778.0 367.4,2777.2 372.5,2776.7 375.0,2777.2 377.6,2775.4 380.2,2776.2 382.7,2774.1 384.3,2769.0 385.3,2772.9 387.3,2776.2 393.0,2776.2 398.1,2775.4 400.7,2771.6 401.9,2757.5 403.2,2758.8 404.5,2775.4 408.4,2775.4 413.5,2776.2 418.6,2774.7 423.7,2774.1 426.8,2773.6 428.1,2760.1 429.4,2761.3 430.9,2770.3 432.7,2770.3 435.3,2774.1 439.1,2775.4 444.2,2774.7 449.3,2772.9 450.6,2762.6 452.4,2761.8 454.0,2769.0 455.8,2767.7 457.0,2769.0 459.1,2767.7 460.9,2771.6 462.2,2752.4 463.4,2761.3 464.7,2771.6 467.3,2770.3 469.3,2765.2 471.1,2771.1 473.7,2769.0 476.3,2767.7 478.8,2769.0 481.4,2763.9 483.9,2763.9 486.5,2769.0 489.1,2772.9 495.5,2773.6 505.7,2772.9 516.0,2772.1 523.7,2772.9 531.3,2770.3 539.0,2768.5 542.9,2765.2 545.4,2770.3 548.0,2770.3 549.3,2744.7 550.6,2761.3 551.8,2766.5 554.4,2766.5 556.4,2747.2 558.2,2766.5 560.8,2769.0 567.2,2770.3 577.5,2770.3 580.0,2763.9 582.1,2760.8 584.6,2767.7 587.7,2769.0 592.8,2769.5 580.0,2766.5 582.6,2761.3 584.6,2767.7 587.7,2769.0 592.8,2769.5 600.5,2770.3 608.2,2770.3 612.0,2767.7 614.6,2763.9 616.4,2756.7 617.9,2761.3 619.7,2767.7 623.6,2771.1 631.2,2772.1 644.1,2772.1 656.9,2772.1 669.7,2772.1 682.5,2771.6 695.3,2771.6 708.1,2772.1 720.9,2771.1 733.7,2770.3 746.5,2769.5 759.3,2769.5 769.6,2769.0 774.7,2767.7 779.8,2768.5 783.7,2765.2 786.3,2766.5 788.8,2763.9 790.6,2761.3 792.1,2766.5 795.2,2767.7 800.3,2767.7 805.0,2766.5 806.0,2756.2 806.5,2730.6 807.0,2689.6 807.8,2602.5 808.3,2520.5 809.1,2520.5 809.3,2561.5 809.8,2653.7 810.3,2730.6 811.1,2748.5 812.1,2756.2 814.4,2759.3 817.0,2762.6 820.8,2765.2 826.0,2766.5 829.8,2767.0 833.7,2766.5 835.4,2762.6 837.0,2762.6 838.8,2766.5 840.8,2771.6 843.4,2776.7 845.9,2781.8 848.5,2789.0 850.3,2784.4 853.6,2781.3 856.7,2780.6 860.6,2780.6" fill="none" stroke="#000" stroke-width="1.1" stroke-linejoin="round"/><path d="M326.4,2512.9V2790.3M326.4,2512.9H879.2M326.4,2790.3H879.2" stroke="#000" stroke-width="1.2" fill="none"/><path d="M879.2,2512.9V2790.3" stroke="#00f" stroke-width="1.2" fill="none"/><path d="M326.4,2756.21h2.6M326.4,2731.87h5.2M326.4,2707.53h2.6M326.4,2683.19h5.2M326.4,2658.85h2.6M326.4,2634.51h5.2M326.4,2610.17h2.6M326.4,2585.83h5.2M326.4,2561.49h2.6M326.4,2537.15h5.2M343.3,2790.3v-4.5M377.86,2790.3v-2.4M412.42,2790.3v-4.5M446.98,2790.3v-2.4M481.54,2790.3v-4.5M516.1,2790.3v-2.4M550.66,2790.3v-4.5M585.22,2790.3v-2.4M619.78,2790.3v-4.5M654.34,2790.3v-2.4M688.9,2790.3v-4.5M723.46,2790.3v-2.4M758.02,2790.3v-4.5M792.58,2790.3v-2.4M827.14,2790.3v-4.5M861.7,2790.3v-2.4" stroke="#000" stroke-width="1.2" fill="none"/><path d="M879.2,2784.45h-6M879.2,2757.92h-3M879.2,2731.4h-6M879.2,2704.88h-3M879.2,2678.35h-6M879.2,2651.82h-3M879.2,2625.3h-6M879.2,2598.77h-3M879.2,2572.25h-6M879.2,2545.72h-3M879.2,2519.2h-6" stroke="#00f" stroke-width="1.2" fill="none"/><text transform="translate(318.2,2784.05) scale(1,1.03)" font-size="14.2" text-anchor="end" fill="#111">0</text><text transform="translate(318.2,2735.37) scale(1,1.03)" font-size="14.2" text-anchor="end" fill="#111">200</text><text transform="translate(318.2,2686.69) scale(1,1.03)" font-size="14.2" text-anchor="end" fill="#111">400</text><text transform="translate(318.2,2638.01) scale(1,1.03)" font-size="14.2" text-anchor="end" fill="#111">600</text><text transform="translate(318.2,2589.33) scale(1,1.03)" font-size="14.2" text-anchor="end" fill="#111">800</text><text transform="translate(318.2,2540.65) scale(1,1.03)" font-size="14.2" text-anchor="end" fill="#111">1000</text><text transform="translate(343.3,2807.5) scale(1,1.03)" font-size="14.2" text-anchor="middle" fill="#111">0</text><text transform="translate(412.42,2807.5) scale(1,1.03)" font-size="14.2" text-anchor="middle" fill="#111">20</text><text transform="translate(481.54,2807.5) scale(1,1.03)" font-size="14.2" text-anchor="middle" fill="#111">40</text><text transform="translate(550.66,2807.5) scale(1,1.03)" font-size="14.2" text-anchor="middle" fill="#111">60</text><text transform="translate(619.78,2807.5) scale(1,1.03)" font-size="14.2" text-anchor="middle" fill="#111">80</text><text transform="translate(688.9,2807.5) scale(1,1.03)" font-size="14.2" text-anchor="middle" fill="#111">100</text><text transform="translate(758.02,2807.5) scale(1,1.03)" font-size="14.2" text-anchor="middle" fill="#111">120</text><text transform="translate(827.14,2807.5) scale(1,1.03)" font-size="14.2" text-anchor="middle" fill="#111">140</text><text transform="translate(886.2,2787.95) scale(1,1.03)" font-size="14.2" fill="#00f">0</text><text transform="translate(886.2,2734.9) scale(1,1.03)" font-size="14.2" fill="#00f">20</text><text transform="translate(886.2,2681.85) scale(1,1.03)" font-size="14.2" fill="#00f">40</text><text transform="translate(886.2,2628.8) scale(1,1.03)" font-size="14.2" fill="#00f">60</text><text transform="translate(886.2,2575.75) scale(1,1.03)" font-size="14.2" fill="#00f">80</text><text transform="translate(886.2,2522.7) scale(1,1.03)" font-size="14.2" fill="#00f">100</text><text class="b" transform="translate(286.8,2715.21) rotate(-90) scale(1,1.1)" font-size="16.95" fill="#000">Abs 214nm (mAU)</text><text class="b" transform="translate(922.1,2710.21) rotate(-90) scale(1,1.12)" font-size="16.92" fill="#00f">Solution B (%)</text><text class="b" transform="translate(553.23,2825.2) scale(1,1.07)" font-size="16.91" fill="#000">Volume (mL)</text><text class="b" transform="translate(751.81,2547.1) scale(1,1.05)" font-size="29.09" fill="#000">V1</text><text transform="translate(797.5,2524)" font-size="7" fill="#335">1</text></g><g><rect x="309.3" y="3755.5" width="553.7" height="275.8" fill="#fff"/><polyline points="326.5,4025.9 328.99,4025.9 433.61,3969.18 519.98,3939.49 703.1,3906.2 775.65,3865.32 789.82,3759.6 804.57,3759.6 818.22,4025.9 841.29,4025.9" fill="none" stroke="#00f" stroke-width="2.2" stroke-linecap="round" stroke-dasharray="0 7.3"/><polyline points="326.5,4006.3 336.0,4006.3 337.3,4007.7 338.2,4031.3 340.1,4031.3 340.9,4004.9 342.8,4000.9 344.1,3994.1 345.5,3990.5 346.8,3995.4 349.6,4003.6 352.3,4004.9 354.5,4000.9 355.5,3979.1 356.6,4000.9 359.1,4004.1 363.2,4004.1 367.2,4003.6 368.6,3996.8 369.9,3998.2 372.7,4003.0 375.4,4001.4 378.1,4002.2 382.2,4003.0 384.9,4001.4 387.6,4003.0 393.0,4003.0 395.8,3999.5 398.5,3998.2 399.8,3990.0 400.7,3968.3 401.7,3979.1 402.8,3995.4 403.9,3999.5 406.6,4000.3 410.7,3999.5 413.4,3995.4 414.8,3988.6 416.1,3996.8 418.0,3992.7 419.7,3985.9 421.0,3996.8 423.5,3998.2 427.0,3996.8 429.7,3984.6 431.1,3975.1 432.7,3984.6 434.3,3995.4 436.5,3999.5 439.2,4000.3 442.5,3997.6 444.7,3988.6 446.8,3987.8 448.8,3996.8 450.7,3994.1 452.3,3986.7 454.2,3992.7 456.9,3997.6 459.6,3998.2 462.3,3994.1 463.7,3984.6 465.1,3971.0 466.4,3979.1 467.8,3994.1 469.7,3991.4 471.8,3988.6 474.0,3992.7 475.4,3983.2 477.3,3995.4 479.5,3996.8 480.8,3984.6 481.9,3965.5 483.3,3990.0 484.9,3992.7 486.8,3990.0 488.7,3994.1 490.9,3996.8 493.0,3992.7 494.1,3979.1 495.2,3994.1 497.1,3996.8 499.0,3995.4 499.8,3971.0 500.7,3903.0 501.2,3867.7 502.0,3903.0 502.8,3957.4 503.9,3990.0 505.8,3996.8 508.5,3992.7 510.4,3990.0 512.6,3994.1 515.3,3996.8 518.0,3993.3 520.8,3996.8 523.5,3994.1 526.2,3990.0 528.4,3987.3 529.5,3976.4 530.5,3990.0 533.0,3994.1 535.7,3992.7 538.4,3991.4 541.1,3992.7 545.2,3994.1 549.3,3990.0 552.0,3991.4 556.1,3994.1 560.2,3994.9 563.7,3992.7 565.6,3976.4 567.0,3935.7 568.0,3908.5 568.9,3896.2 569.7,3913.9 570.5,3946.5 572.0,3979.1 573.0,3987.3 574.1,3988.6 574.9,3976.4 576.3,3984.6 577.4,3985.9 578.5,3971.0 579.6,3963.4 580.7,3976.4 582.3,3990.0 584.5,3994.1 587.2,3992.7 589.9,3988.6 592.6,3991.4 595.3,3994.1 598.0,3995.4 600.8,3992.7 602.9,3976.4 604.6,3966.9 606.2,3973.7 607.8,3983.2 609.5,3973.7 610.3,3930.2 611.1,3835.1 611.9,3794.3 612.4,3769.9 613.3,3807.9 614.1,3848.7 614.9,3889.5 616.0,3908.5 617.1,3930.2 618.4,3957.4 619.8,3979.1 621.4,3988.6 623.9,3992.7 627.4,3995.4 630.1,3991.4 632.8,3994.1 636.1,3995.4 639.3,3992.7 641.0,3988.6 642.3,3994.1 644.8,3995.4 648.3,3993.3 652.4,3994.3 657.8,3996.0 661.9,3996.8 663.3,3979.1 664.6,3965.5 666.0,3976.4 667.3,3973.7 668.7,3980.5 671.4,3985.9 674.1,3990.0 676.8,3992.7 679.6,3994.1 682.3,3995.4 684.5,3990.0 685.8,3979.1 687.2,3992.7 689.1,3995.4 693.2,3996.0 698.6,3996.8 704.0,3996.0 709.5,3994.9 711.1,3979.1 712.2,3973.7 713.5,3983.2 714.9,3994.1 717.6,3995.4 723.0,3994.9 729.8,3994.1 731.2,3983.2 732.0,3981.8 733.4,3991.4 735.3,3993.3 739.3,3994.1 744.8,3994.1 750.2,3994.1 755.7,3994.1 757.8,3991.4 759.7,3979.1 761.1,3985.9 762.4,3991.4 764.3,3988.6 766.5,3981.8 767.9,3980.5 769.2,3985.9 771.4,3990.0 774.7,3988.6 776.8,3973.7 778.2,3981.8 780.1,3988.6 782.8,3988.6 785.5,3990.0 787.7,3985.9 789.6,3976.4 791.0,3952.0 791.8,3935.7 792.6,3903.0 793.2,3924.8 793.7,3957.4 794.8,3965.5 795.9,3961.5 797.0,3965.5 798.0,3960.1 799.1,3968.3 801.3,3976.4 804.0,3980.5 807.3,3984.6 810.0,3985.9 812.7,3986.7 815.4,3985.9 817.6,3983.2 819.5,3983.2 821.4,3990.0 823.6,3998.2 825.8,4006.3 827.9,4014.5 830.4,4021.2 831.7,4019.9 833.9,4011.7 836.6,4009.0 839.9,4007.7 844.0,4007.7" fill="none" stroke="#000" stroke-width="1.1" stroke-linejoin="round"/><path d="M309.3,3755.5V4031.3M309.3,3755.5H863M309.3,4031.3H863" stroke="#000" stroke-width="1.2" fill="none"/><path d="M863,3755.5V4031.3" stroke="#00f" stroke-width="1.2" fill="none"/><path d="M309.3,3975.29h2.6M309.3,3944.27h5.2M309.3,3913.26h2.6M309.3,3882.24h5.2M309.3,3851.23h2.6M309.3,3820.21h5.2M309.3,3789.2h2.6M309.3,3758.18h5.2M326.5,4031.3v-4.5M361.05,4031.3v-2.4M395.6,4031.3v-4.5M430.15,4031.3v-2.4M464.7,4031.3v-4.5M499.25,4031.3v-2.4M533.8,4031.3v-4.5M568.35,4031.3v-2.4M602.9,4031.3v-4.5M637.45,4031.3v-2.4M672,4031.3v-4.5M706.55,4031.3v-2.4M741.1,4031.3v-4.5M775.65,4031.3v-2.4M810.2,4031.3v-4.5M844.75,4031.3v-2.4" stroke="#000" stroke-width="1.2" fill="none"/><path d="M863,4025.9h-6M863,3999.27h-3M863,3972.64h-6M863,3946.01h-3M863,3919.38h-6M863,3892.75h-3M863,3866.12h-6M863,3839.49h-3M863,3812.86h-6M863,3786.23h-3M863,3759.6h-6" stroke="#00f" stroke-width="1.2" fill="none"/><text transform="translate(301.8,4009.8) scale(1,1.03)" font-size="14.0" text-anchor="end" fill="#111">0</text><text transform="translate(301.8,3947.77) scale(1,1.03)" font-size="14.0" text-anchor="end" fill="#111">100</text><text transform="translate(301.8,3885.74) scale(1,1.03)" font-size="14.0" text-anchor="end" fill="#111">200</text><text transform="translate(301.8,3823.71) scale(1,1.03)" font-size="14.0" text-anchor="end" fill="#111">300</text><text transform="translate(301.8,3761.68) scale(1,1.03)" font-size="14.0" text-anchor="end" fill="#111">400</text><text transform="translate(326.5,4049.2) scale(1,1.03)" font-size="14.0" text-anchor="middle" fill="#111">0</text><text transform="translate(395.6,4049.2) scale(1,1.03)" font-size="14.0" text-anchor="middle" fill="#111">20</text><text transform="translate(464.7,4049.2) scale(1,1.03)" font-size="14.0" text-anchor="middle" fill="#111">40</text><text transform="translate(533.8,4049.2) scale(1,1.03)" font-size="14.0" text-anchor="middle" fill="#111">60</text><text transform="translate(602.9,4049.2) scale(1,1.03)" font-size="14.0" text-anchor="middle" fill="#111">80</text><text transform="translate(672,4049.2) scale(1,1.03)" font-size="14.0" text-anchor="middle" fill="#111">100</text><text transform="translate(741.1,4049.2) scale(1,1.03)" font-size="14.0" text-anchor="middle" fill="#111">120</text><text transform="translate(810.2,4049.2) scale(1,1.03)" font-size="14.0" text-anchor="middle" fill="#111">140</text><text transform="translate(868.8,4029.4) scale(1,1.03)" font-size="14.0" fill="#00f">0</text><text transform="translate(868.8,3976.14) scale(1,1.03)" font-size="14.0" fill="#00f">20</text><text transform="translate(868.8,3922.88) scale(1,1.03)" font-size="14.0" fill="#00f">40</text><text transform="translate(868.8,3869.62) scale(1,1.03)" font-size="14.0" fill="#00f">60</text><text transform="translate(868.8,3816.36) scale(1,1.03)" font-size="14.0" fill="#00f">80</text><text transform="translate(868.8,3763.1) scale(1,1.03)" font-size="14.0" fill="#00f">100</text><text class="b" transform="translate(270.2,3961.21) rotate(-90) scale(1,1.17)" font-size="16.95" fill="#000">Abs 214nm (mAU)</text><text class="b" transform="translate(907.3,3951.9) rotate(-90) scale(1,1.19)" font-size="16.62" fill="#00f">Solution B (%)</text><text class="b" transform="translate(538.23,4066.1) scale(1,0.93)" font-size="16.96" fill="#000">Volume (mL)</text><text class="b" transform="translate(647.22,3790.3) scale(1,1.05)" font-size="28.26" fill="#000">Ts1</text><text class="b" transform="translate(604.5,3763.5)" font-size="6.5" fill="#222">Ts1</text></g>
<text class="b" transform="translate(30.01,143.9) scale(1,1.01)" font-size="139.55">A</text>
<text class="b" transform="translate(33.15,1358.9) scale(1,1.06)" font-size="132.62">B</text>
<text class="b" transform="translate(33.46,2595.9) scale(1,1.08)" font-size="128.4">C</text>
<text class="b" transform="translate(33.18,3823) scale(1,1.06)" font-size="132.08">D</text>
<text class="b" transform="translate(1791.75,360.3) scale(1,1.05)" font-size="66.92">B59</text>
<text class="b" transform="translate(622.74,1373.9) scale(1,1.05)" font-size="67.05">M1</text>
<text class="b" transform="translate(1884.83,2591.2) scale(1,1.05)" font-size="67.05">V1</text>
<text class="b" transform="translate(1363.23,3820.2) scale(1,1.05)" font-size="67.19">Ts1</text>
<text class="b" transform="translate(1847.43,984) scale(1,1.06)" font-size="50.29">BamazV</text>
<text class="b" transform="translate(1841.7,2191) scale(1,1.07)" font-size="49.97">TmetuV</text>
<text class="b" transform="translate(1816.5,3447) scale(1,1.08)" font-size="49.6">TsilvV</text>
<text class="b" transform="translate(1808.1,4718.7) scale(1,1.07)" font-size="50.11">TserrV</text>
<text class="b" transform="translate(1090.59,1177.3) scale(1,1.04)" font-size="61.18">Volume (mL)</text>
<text class="b" transform="translate(1087.09,2395.7) scale(1,1.05)" font-size="61.13">Volume (mL)</text>
<text class="b" transform="translate(1062.18,3636.7) scale(1,1.04)" font-size="61.69">Volume (mL)</text>
<text class="b" transform="translate(1048.99,4913) scale(1,1.07)" font-size="61.23">Volume (mL)</text>
<text class="b" transform="translate(147,789.63) rotate(-90) scale(1,1.05)" font-size="61.1" fill="#000">Abs 214nm (mAU)</text>
<text class="b" transform="translate(142.1,1993.12) rotate(-90) scale(1,1.07)" font-size="60.81" fill="#000">Abs 214nm (mAU)</text>
<text class="b" transform="translate(111.7,3242.04) rotate(-90) scale(1,1.06)" font-size="61.49" fill="#000">Abs 214nm (mAU)</text>
<text class="b" transform="translate(87.2,4489.69) rotate(-90) scale(1,1.05)" font-size="62.9" fill="#000">Abs 214nm (mAU)</text>
<text class="b" transform="translate(2433.5,759.23) rotate(-90) scale(1,1.07)" font-size="60.89" fill="#00f">Solution B (%)</text>
<text class="b" transform="translate(2422,1979.61) rotate(-90) scale(1,1.1)" font-size="60.39" fill="#00f">Solution B (%)</text>
<text class="b" transform="translate(2411.5,3218.83) rotate(-90) scale(1,1.08)" font-size="61.05" fill="#00f">Solution B (%)</text>
<text class="b" transform="translate(2413.5,4472.98) rotate(-90) scale(1,1.08)" font-size="62.71" fill="#00f">Solution B (%)</text>
</svg></body></html>
